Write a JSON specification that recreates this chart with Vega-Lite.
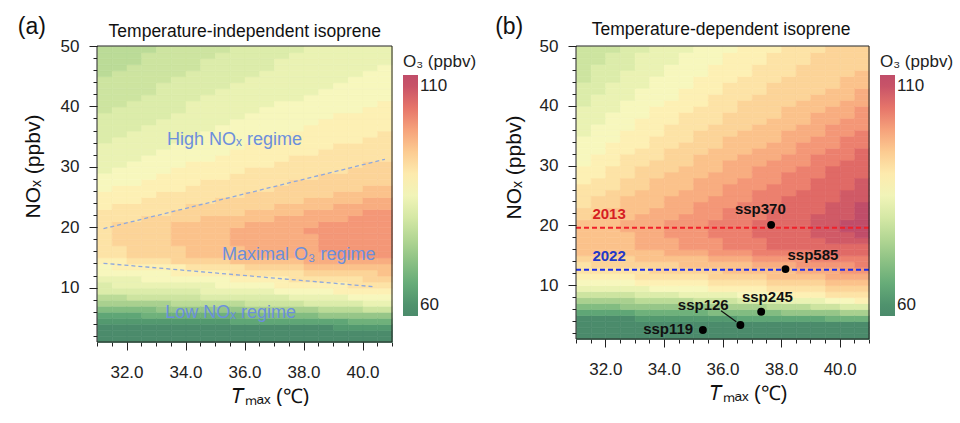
{
"$schema":"https://vega.github.io/schema/vega-lite/v6.json",
"background":"white",
"padding":{"left":17,"top":15,"right":0,"bottom":0},
"autosize":{"type":"pad"},
"spacing":10,
"config":{
"font":"Liberation Sans",
"view":{"stroke":null},
"axis":{"domain":false,"grid":false,"tickColor":"#222","tickWidth":1,"labelFontSize":17,"labelColor":"#222","titleFontSize":20,"titleFontWeight":"normal","titleColor":"#111","labelPadding":3,"labelFlush":false,"labelOverlap":false},
"legend":{"gradientLength":241,"gradientThickness":15,"offset":3,"padding":8,"titlePadding":4,"titleFontSize":17,"titleFontWeight":"normal","labelFontSize":17,"labelOffset":4,"labelColor":"#222","titleColor":"#222","gradientStrokeWidth":0}
},
"resolve":{"scale":{"color":"independent","stroke":"independent"},"legend":{"color":"independent"}},
"datasets":{
"a":[
{"t":31.25,"n":1.5,"o":59},{"t":31.25,"n":2.5,"o":59},{"t":31.25,"n":3.5,"o":59},{"t":31.25,"n":4.5,"o":61},{"t":31.25,"n":5.5,"o":64},{"t":31.25,"n":6.5,"o":69},{"t":31.25,"n":7.5,"o":74},{"t":31.25,"n":8.5,"o":76},{"t":31.25,"n":9.5,"o":81},{"t":31.25,"n":10.5,"o":81},{"t":31.25,"n":11.5,"o":84},{"t":31.25,"n":12.5,"o":86},{"t":31.25,"n":13.5,"o":86},{"t":31.25,"n":14.5,"o":89},{"t":31.25,"n":15.5,"o":91},{"t":31.25,"n":16.5,"o":91},{"t":31.25,"n":17.5,"o":91},{"t":31.25,"n":18.5,"o":91},{"t":31.25,"n":19.5,"o":91},{"t":31.25,"n":20.5,"o":91},{"t":31.25,"n":21.5,"o":91},{"t":31.25,"n":22.5,"o":91},{"t":31.25,"n":23.5,"o":89},{"t":31.25,"n":24.5,"o":89},{"t":31.25,"n":25.5,"o":89},{"t":31.25,"n":26.5,"o":86},{"t":31.25,"n":27.5,"o":86},{"t":31.25,"n":28.5,"o":86},{"t":31.25,"n":29.5,"o":84},{"t":31.25,"n":30.5,"o":84},{"t":31.25,"n":31.5,"o":84},{"t":31.25,"n":32.5,"o":84},{"t":31.25,"n":33.5,"o":84},{"t":31.25,"n":34.5,"o":81},{"t":31.25,"n":35.5,"o":81},{"t":31.25,"n":36.5,"o":81},{"t":31.25,"n":37.5,"o":81},{"t":31.25,"n":38.5,"o":81},{"t":31.25,"n":39.5,"o":79},{"t":31.25,"n":40.5,"o":79},{"t":31.25,"n":41.5,"o":79},{"t":31.25,"n":42.5,"o":79},{"t":31.25,"n":43.5,"o":79},{"t":31.25,"n":44.5,"o":79},{"t":31.25,"n":45.5,"o":76},{"t":31.25,"n":46.5,"o":76},{"t":31.25,"n":47.5,"o":76},{"t":31.25,"n":48.5,"o":76},{"t":31.25,"n":49.5,"o":76},
{"t":31.75,"n":1.5,"o":59},{"t":31.75,"n":2.5,"o":59},{"t":31.75,"n":3.5,"o":59},{"t":31.75,"n":4.5,"o":61},{"t":31.75,"n":5.5,"o":64},{"t":31.75,"n":6.5,"o":69},{"t":31.75,"n":7.5,"o":74},{"t":31.75,"n":8.5,"o":76},{"t":31.75,"n":9.5,"o":81},{"t":31.75,"n":10.5,"o":84},{"t":31.75,"n":11.5,"o":84},{"t":31.75,"n":12.5,"o":86},{"t":31.75,"n":13.5,"o":89},{"t":31.75,"n":14.5,"o":89},{"t":31.75,"n":15.5,"o":91},{"t":31.75,"n":16.5,"o":91},{"t":31.75,"n":17.5,"o":94},{"t":31.75,"n":18.5,"o":94},{"t":31.75,"n":19.5,"o":94},{"t":31.75,"n":20.5,"o":94},{"t":31.75,"n":21.5,"o":91},{"t":31.75,"n":22.5,"o":91},{"t":31.75,"n":23.5,"o":91},{"t":31.75,"n":24.5,"o":89},{"t":31.75,"n":25.5,"o":89},{"t":31.75,"n":26.5,"o":89},{"t":31.75,"n":27.5,"o":86},{"t":31.75,"n":28.5,"o":86},{"t":31.75,"n":29.5,"o":86},{"t":31.75,"n":30.5,"o":84},{"t":31.75,"n":31.5,"o":84},{"t":31.75,"n":32.5,"o":84},{"t":31.75,"n":33.5,"o":84},{"t":31.75,"n":34.5,"o":84},{"t":31.75,"n":35.5,"o":81},{"t":31.75,"n":36.5,"o":81},{"t":31.75,"n":37.5,"o":81},{"t":31.75,"n":38.5,"o":81},{"t":31.75,"n":39.5,"o":81},{"t":31.75,"n":40.5,"o":79},{"t":31.75,"n":41.5,"o":79},{"t":31.75,"n":42.5,"o":79},{"t":31.75,"n":43.5,"o":79},{"t":31.75,"n":44.5,"o":79},{"t":31.75,"n":45.5,"o":79},{"t":31.75,"n":46.5,"o":76},{"t":31.75,"n":47.5,"o":76},{"t":31.75,"n":48.5,"o":76},{"t":31.75,"n":49.5,"o":76},
{"t":32.25,"n":1.5,"o":59},{"t":32.25,"n":2.5,"o":59},{"t":32.25,"n":3.5,"o":59},{"t":32.25,"n":4.5,"o":61},{"t":32.25,"n":5.5,"o":64},{"t":32.25,"n":6.5,"o":69},{"t":32.25,"n":7.5,"o":74},{"t":32.25,"n":8.5,"o":79},{"t":32.25,"n":9.5,"o":81},{"t":32.25,"n":10.5,"o":84},{"t":32.25,"n":11.5,"o":84},{"t":32.25,"n":12.5,"o":86},{"t":32.25,"n":13.5,"o":89},{"t":32.25,"n":14.5,"o":91},{"t":32.25,"n":15.5,"o":94},{"t":32.25,"n":16.5,"o":94},{"t":32.25,"n":17.5,"o":94},{"t":32.25,"n":18.5,"o":94},{"t":32.25,"n":19.5,"o":94},{"t":32.25,"n":20.5,"o":94},{"t":32.25,"n":21.5,"o":91},{"t":32.25,"n":22.5,"o":91},{"t":32.25,"n":23.5,"o":91},{"t":32.25,"n":24.5,"o":89},{"t":32.25,"n":25.5,"o":89},{"t":32.25,"n":26.5,"o":89},{"t":32.25,"n":27.5,"o":86},{"t":32.25,"n":28.5,"o":86},{"t":32.25,"n":29.5,"o":86},{"t":32.25,"n":30.5,"o":86},{"t":32.25,"n":31.5,"o":84},{"t":32.25,"n":32.5,"o":84},{"t":32.25,"n":33.5,"o":84},{"t":32.25,"n":34.5,"o":84},{"t":32.25,"n":35.5,"o":84},{"t":32.25,"n":36.5,"o":81},{"t":32.25,"n":37.5,"o":81},{"t":32.25,"n":38.5,"o":81},{"t":32.25,"n":39.5,"o":81},{"t":32.25,"n":40.5,"o":81},{"t":32.25,"n":41.5,"o":79},{"t":32.25,"n":42.5,"o":79},{"t":32.25,"n":43.5,"o":79},{"t":32.25,"n":44.5,"o":79},{"t":32.25,"n":45.5,"o":79},{"t":32.25,"n":46.5,"o":79},{"t":32.25,"n":47.5,"o":76},{"t":32.25,"n":48.5,"o":76},{"t":32.25,"n":49.5,"o":76},
{"t":32.75,"n":1.5,"o":59},{"t":32.75,"n":2.5,"o":59},{"t":32.75,"n":3.5,"o":59},{"t":32.75,"n":4.5,"o":61},{"t":32.75,"n":5.5,"o":66},{"t":32.75,"n":6.5,"o":69},{"t":32.75,"n":7.5,"o":74},{"t":32.75,"n":8.5,"o":79},{"t":32.75,"n":9.5,"o":81},{"t":32.75,"n":10.5,"o":84},{"t":32.75,"n":11.5,"o":86},{"t":32.75,"n":12.5,"o":86},{"t":32.75,"n":13.5,"o":89},{"t":32.75,"n":14.5,"o":91},{"t":32.75,"n":15.5,"o":94},{"t":32.75,"n":16.5,"o":94},{"t":32.75,"n":17.5,"o":94},{"t":32.75,"n":18.5,"o":94},{"t":32.75,"n":19.5,"o":94},{"t":32.75,"n":20.5,"o":94},{"t":32.75,"n":21.5,"o":94},{"t":32.75,"n":22.5,"o":91},{"t":32.75,"n":23.5,"o":91},{"t":32.75,"n":24.5,"o":91},{"t":32.75,"n":25.5,"o":89},{"t":32.75,"n":26.5,"o":89},{"t":32.75,"n":27.5,"o":89},{"t":32.75,"n":28.5,"o":86},{"t":32.75,"n":29.5,"o":86},{"t":32.75,"n":30.5,"o":86},{"t":32.75,"n":31.5,"o":86},{"t":32.75,"n":32.5,"o":84},{"t":32.75,"n":33.5,"o":84},{"t":32.75,"n":34.5,"o":84},{"t":32.75,"n":35.5,"o":84},{"t":32.75,"n":36.5,"o":84},{"t":32.75,"n":37.5,"o":81},{"t":32.75,"n":38.5,"o":81},{"t":32.75,"n":39.5,"o":81},{"t":32.75,"n":40.5,"o":81},{"t":32.75,"n":41.5,"o":81},{"t":32.75,"n":42.5,"o":79},{"t":32.75,"n":43.5,"o":79},{"t":32.75,"n":44.5,"o":79},{"t":32.75,"n":45.5,"o":79},{"t":32.75,"n":46.5,"o":79},{"t":32.75,"n":47.5,"o":79},{"t":32.75,"n":48.5,"o":79},{"t":32.75,"n":49.5,"o":76},
{"t":33.25,"n":1.5,"o":59},{"t":33.25,"n":2.5,"o":59},{"t":33.25,"n":3.5,"o":59},{"t":33.25,"n":4.5,"o":61},{"t":33.25,"n":5.5,"o":66},{"t":33.25,"n":6.5,"o":71},{"t":33.25,"n":7.5,"o":74},{"t":33.25,"n":8.5,"o":79},{"t":33.25,"n":9.5,"o":81},{"t":33.25,"n":10.5,"o":84},{"t":33.25,"n":11.5,"o":86},{"t":33.25,"n":12.5,"o":86},{"t":33.25,"n":13.5,"o":89},{"t":33.25,"n":14.5,"o":91},{"t":33.25,"n":15.5,"o":94},{"t":33.25,"n":16.5,"o":94},{"t":33.25,"n":17.5,"o":94},{"t":33.25,"n":18.5,"o":94},{"t":33.25,"n":19.5,"o":94},{"t":33.25,"n":20.5,"o":94},{"t":33.25,"n":21.5,"o":94},{"t":33.25,"n":22.5,"o":91},{"t":33.25,"n":23.5,"o":91},{"t":33.25,"n":24.5,"o":91},{"t":33.25,"n":25.5,"o":91},{"t":33.25,"n":26.5,"o":89},{"t":33.25,"n":27.5,"o":89},{"t":33.25,"n":28.5,"o":89},{"t":33.25,"n":29.5,"o":86},{"t":33.25,"n":30.5,"o":86},{"t":33.25,"n":31.5,"o":86},{"t":33.25,"n":32.5,"o":86},{"t":33.25,"n":33.5,"o":84},{"t":33.25,"n":34.5,"o":84},{"t":33.25,"n":35.5,"o":84},{"t":33.25,"n":36.5,"o":84},{"t":33.25,"n":37.5,"o":84},{"t":33.25,"n":38.5,"o":81},{"t":33.25,"n":39.5,"o":81},{"t":33.25,"n":40.5,"o":81},{"t":33.25,"n":41.5,"o":81},{"t":33.25,"n":42.5,"o":81},{"t":33.25,"n":43.5,"o":81},{"t":33.25,"n":44.5,"o":79},{"t":33.25,"n":45.5,"o":79},{"t":33.25,"n":46.5,"o":79},{"t":33.25,"n":47.5,"o":79},{"t":33.25,"n":48.5,"o":79},{"t":33.25,"n":49.5,"o":79},
{"t":33.75,"n":1.5,"o":59},{"t":33.75,"n":2.5,"o":59},{"t":33.75,"n":3.5,"o":59},{"t":33.75,"n":4.5,"o":61},{"t":33.75,"n":5.5,"o":66},{"t":33.75,"n":6.5,"o":71},{"t":33.75,"n":7.5,"o":76},{"t":33.75,"n":8.5,"o":79},{"t":33.75,"n":9.5,"o":81},{"t":33.75,"n":10.5,"o":84},{"t":33.75,"n":11.5,"o":86},{"t":33.75,"n":12.5,"o":89},{"t":33.75,"n":13.5,"o":89},{"t":33.75,"n":14.5,"o":94},{"t":33.75,"n":15.5,"o":94},{"t":33.75,"n":16.5,"o":94},{"t":33.75,"n":17.5,"o":96},{"t":33.75,"n":18.5,"o":96},{"t":33.75,"n":19.5,"o":96},{"t":33.75,"n":20.5,"o":96},{"t":33.75,"n":21.5,"o":94},{"t":33.75,"n":22.5,"o":94},{"t":33.75,"n":23.5,"o":91},{"t":33.75,"n":24.5,"o":91},{"t":33.75,"n":25.5,"o":91},{"t":33.75,"n":26.5,"o":89},{"t":33.75,"n":27.5,"o":89},{"t":33.75,"n":28.5,"o":89},{"t":33.75,"n":29.5,"o":89},{"t":33.75,"n":30.5,"o":86},{"t":33.75,"n":31.5,"o":86},{"t":33.75,"n":32.5,"o":86},{"t":33.75,"n":33.5,"o":86},{"t":33.75,"n":34.5,"o":84},{"t":33.75,"n":35.5,"o":84},{"t":33.75,"n":36.5,"o":84},{"t":33.75,"n":37.5,"o":84},{"t":33.75,"n":38.5,"o":84},{"t":33.75,"n":39.5,"o":81},{"t":33.75,"n":40.5,"o":81},{"t":33.75,"n":41.5,"o":81},{"t":33.75,"n":42.5,"o":81},{"t":33.75,"n":43.5,"o":81},{"t":33.75,"n":44.5,"o":81},{"t":33.75,"n":45.5,"o":79},{"t":33.75,"n":46.5,"o":79},{"t":33.75,"n":47.5,"o":79},{"t":33.75,"n":48.5,"o":79},{"t":33.75,"n":49.5,"o":79},
{"t":34.25,"n":1.5,"o":59},{"t":34.25,"n":2.5,"o":59},{"t":34.25,"n":3.5,"o":59},{"t":34.25,"n":4.5,"o":61},{"t":34.25,"n":5.5,"o":66},{"t":34.25,"n":6.5,"o":71},{"t":34.25,"n":7.5,"o":76},{"t":34.25,"n":8.5,"o":79},{"t":34.25,"n":9.5,"o":81},{"t":34.25,"n":10.5,"o":84},{"t":34.25,"n":11.5,"o":86},{"t":34.25,"n":12.5,"o":89},{"t":34.25,"n":13.5,"o":91},{"t":34.25,"n":14.5,"o":94},{"t":34.25,"n":15.5,"o":96},{"t":34.25,"n":16.5,"o":96},{"t":34.25,"n":17.5,"o":96},{"t":34.25,"n":18.5,"o":96},{"t":34.25,"n":19.5,"o":96},{"t":34.25,"n":20.5,"o":96},{"t":34.25,"n":21.5,"o":94},{"t":34.25,"n":22.5,"o":94},{"t":34.25,"n":23.5,"o":94},{"t":34.25,"n":24.5,"o":91},{"t":34.25,"n":25.5,"o":91},{"t":34.25,"n":26.5,"o":91},{"t":34.25,"n":27.5,"o":89},{"t":34.25,"n":28.5,"o":89},{"t":34.25,"n":29.5,"o":89},{"t":34.25,"n":30.5,"o":89},{"t":34.25,"n":31.5,"o":86},{"t":34.25,"n":32.5,"o":86},{"t":34.25,"n":33.5,"o":86},{"t":34.25,"n":34.5,"o":86},{"t":34.25,"n":35.5,"o":84},{"t":34.25,"n":36.5,"o":84},{"t":34.25,"n":37.5,"o":84},{"t":34.25,"n":38.5,"o":84},{"t":34.25,"n":39.5,"o":84},{"t":34.25,"n":40.5,"o":84},{"t":34.25,"n":41.5,"o":81},{"t":34.25,"n":42.5,"o":81},{"t":34.25,"n":43.5,"o":81},{"t":34.25,"n":44.5,"o":81},{"t":34.25,"n":45.5,"o":81},{"t":34.25,"n":46.5,"o":79},{"t":34.25,"n":47.5,"o":79},{"t":34.25,"n":48.5,"o":79},{"t":34.25,"n":49.5,"o":79},
{"t":34.75,"n":1.5,"o":59},{"t":34.75,"n":2.5,"o":59},{"t":34.75,"n":3.5,"o":59},{"t":34.75,"n":4.5,"o":61},{"t":34.75,"n":5.5,"o":66},{"t":34.75,"n":6.5,"o":71},{"t":34.75,"n":7.5,"o":76},{"t":34.75,"n":8.5,"o":81},{"t":34.75,"n":9.5,"o":84},{"t":34.75,"n":10.5,"o":84},{"t":34.75,"n":11.5,"o":86},{"t":34.75,"n":12.5,"o":89},{"t":34.75,"n":13.5,"o":91},{"t":34.75,"n":14.5,"o":94},{"t":34.75,"n":15.5,"o":96},{"t":34.75,"n":16.5,"o":96},{"t":34.75,"n":17.5,"o":96},{"t":34.75,"n":18.5,"o":96},{"t":34.75,"n":19.5,"o":96},{"t":34.75,"n":20.5,"o":96},{"t":34.75,"n":21.5,"o":96},{"t":34.75,"n":22.5,"o":94},{"t":34.75,"n":23.5,"o":94},{"t":34.75,"n":24.5,"o":91},{"t":34.75,"n":25.5,"o":91},{"t":34.75,"n":26.5,"o":91},{"t":34.75,"n":27.5,"o":91},{"t":34.75,"n":28.5,"o":89},{"t":34.75,"n":29.5,"o":89},{"t":34.75,"n":30.5,"o":89},{"t":34.75,"n":31.5,"o":86},{"t":34.75,"n":32.5,"o":86},{"t":34.75,"n":33.5,"o":86},{"t":34.75,"n":34.5,"o":86},{"t":34.75,"n":35.5,"o":86},{"t":34.75,"n":36.5,"o":84},{"t":34.75,"n":37.5,"o":84},{"t":34.75,"n":38.5,"o":84},{"t":34.75,"n":39.5,"o":84},{"t":34.75,"n":40.5,"o":84},{"t":34.75,"n":41.5,"o":84},{"t":34.75,"n":42.5,"o":81},{"t":34.75,"n":43.5,"o":81},{"t":34.75,"n":44.5,"o":81},{"t":34.75,"n":45.5,"o":81},{"t":34.75,"n":46.5,"o":81},{"t":34.75,"n":47.5,"o":81},{"t":34.75,"n":48.5,"o":79},{"t":34.75,"n":49.5,"o":79},
{"t":35.25,"n":1.5,"o":59},{"t":35.25,"n":2.5,"o":59},{"t":35.25,"n":3.5,"o":59},{"t":35.25,"n":4.5,"o":61},{"t":35.25,"n":5.5,"o":66},{"t":35.25,"n":6.5,"o":71},{"t":35.25,"n":7.5,"o":76},{"t":35.25,"n":8.5,"o":81},{"t":35.25,"n":9.5,"o":84},{"t":35.25,"n":10.5,"o":86},{"t":35.25,"n":11.5,"o":86},{"t":35.25,"n":12.5,"o":89},{"t":35.25,"n":13.5,"o":91},{"t":35.25,"n":14.5,"o":94},{"t":35.25,"n":15.5,"o":96},{"t":35.25,"n":16.5,"o":96},{"t":35.25,"n":17.5,"o":96},{"t":35.25,"n":18.5,"o":96},{"t":35.25,"n":19.5,"o":96},{"t":35.25,"n":20.5,"o":96},{"t":35.25,"n":21.5,"o":96},{"t":35.25,"n":22.5,"o":94},{"t":35.25,"n":23.5,"o":94},{"t":35.25,"n":24.5,"o":94},{"t":35.25,"n":25.5,"o":91},{"t":35.25,"n":26.5,"o":91},{"t":35.25,"n":27.5,"o":91},{"t":35.25,"n":28.5,"o":89},{"t":35.25,"n":29.5,"o":89},{"t":35.25,"n":30.5,"o":89},{"t":35.25,"n":31.5,"o":89},{"t":35.25,"n":32.5,"o":86},{"t":35.25,"n":33.5,"o":86},{"t":35.25,"n":34.5,"o":86},{"t":35.25,"n":35.5,"o":86},{"t":35.25,"n":36.5,"o":86},{"t":35.25,"n":37.5,"o":84},{"t":35.25,"n":38.5,"o":84},{"t":35.25,"n":39.5,"o":84},{"t":35.25,"n":40.5,"o":84},{"t":35.25,"n":41.5,"o":84},{"t":35.25,"n":42.5,"o":84},{"t":35.25,"n":43.5,"o":81},{"t":35.25,"n":44.5,"o":81},{"t":35.25,"n":45.5,"o":81},{"t":35.25,"n":46.5,"o":81},{"t":35.25,"n":47.5,"o":81},{"t":35.25,"n":48.5,"o":81},{"t":35.25,"n":49.5,"o":79},
{"t":35.75,"n":1.5,"o":59},{"t":35.75,"n":2.5,"o":59},{"t":35.75,"n":3.5,"o":59},{"t":35.75,"n":4.5,"o":64},{"t":35.75,"n":5.5,"o":66},{"t":35.75,"n":6.5,"o":71},{"t":35.75,"n":7.5,"o":76},{"t":35.75,"n":8.5,"o":81},{"t":35.75,"n":9.5,"o":84},{"t":35.75,"n":10.5,"o":86},{"t":35.75,"n":11.5,"o":89},{"t":35.75,"n":12.5,"o":91},{"t":35.75,"n":13.5,"o":91},{"t":35.75,"n":14.5,"o":96},{"t":35.75,"n":15.5,"o":96},{"t":35.75,"n":16.5,"o":96},{"t":35.75,"n":17.5,"o":99},{"t":35.75,"n":18.5,"o":99},{"t":35.75,"n":19.5,"o":99},{"t":35.75,"n":20.5,"o":96},{"t":35.75,"n":21.5,"o":96},{"t":35.75,"n":22.5,"o":94},{"t":35.75,"n":23.5,"o":94},{"t":35.75,"n":24.5,"o":94},{"t":35.75,"n":25.5,"o":91},{"t":35.75,"n":26.5,"o":91},{"t":35.75,"n":27.5,"o":91},{"t":35.75,"n":28.5,"o":91},{"t":35.75,"n":29.5,"o":89},{"t":35.75,"n":30.5,"o":89},{"t":35.75,"n":31.5,"o":89},{"t":35.75,"n":32.5,"o":89},{"t":35.75,"n":33.5,"o":86},{"t":35.75,"n":34.5,"o":86},{"t":35.75,"n":35.5,"o":86},{"t":35.75,"n":36.5,"o":86},{"t":35.75,"n":37.5,"o":86},{"t":35.75,"n":38.5,"o":84},{"t":35.75,"n":39.5,"o":84},{"t":35.75,"n":40.5,"o":84},{"t":35.75,"n":41.5,"o":84},{"t":35.75,"n":42.5,"o":84},{"t":35.75,"n":43.5,"o":84},{"t":35.75,"n":44.5,"o":81},{"t":35.75,"n":45.5,"o":81},{"t":35.75,"n":46.5,"o":81},{"t":35.75,"n":47.5,"o":81},{"t":35.75,"n":48.5,"o":81},{"t":35.75,"n":49.5,"o":81},
{"t":36.25,"n":1.5,"o":59},{"t":36.25,"n":2.5,"o":59},{"t":36.25,"n":3.5,"o":59},{"t":36.25,"n":4.5,"o":64},{"t":36.25,"n":5.5,"o":69},{"t":36.25,"n":6.5,"o":74},{"t":36.25,"n":7.5,"o":79},{"t":36.25,"n":8.5,"o":81},{"t":36.25,"n":9.5,"o":84},{"t":36.25,"n":10.5,"o":86},{"t":36.25,"n":11.5,"o":89},{"t":36.25,"n":12.5,"o":91},{"t":36.25,"n":13.5,"o":94},{"t":36.25,"n":14.5,"o":96},{"t":36.25,"n":15.5,"o":99},{"t":36.25,"n":16.5,"o":99},{"t":36.25,"n":17.5,"o":99},{"t":36.25,"n":18.5,"o":99},{"t":36.25,"n":19.5,"o":99},{"t":36.25,"n":20.5,"o":99},{"t":36.25,"n":21.5,"o":96},{"t":36.25,"n":22.5,"o":96},{"t":36.25,"n":23.5,"o":94},{"t":36.25,"n":24.5,"o":94},{"t":36.25,"n":25.5,"o":94},{"t":36.25,"n":26.5,"o":91},{"t":36.25,"n":27.5,"o":91},{"t":36.25,"n":28.5,"o":91},{"t":36.25,"n":29.5,"o":91},{"t":36.25,"n":30.5,"o":89},{"t":36.25,"n":31.5,"o":89},{"t":36.25,"n":32.5,"o":89},{"t":36.25,"n":33.5,"o":89},{"t":36.25,"n":34.5,"o":86},{"t":36.25,"n":35.5,"o":86},{"t":36.25,"n":36.5,"o":86},{"t":36.25,"n":37.5,"o":86},{"t":36.25,"n":38.5,"o":86},{"t":36.25,"n":39.5,"o":84},{"t":36.25,"n":40.5,"o":84},{"t":36.25,"n":41.5,"o":84},{"t":36.25,"n":42.5,"o":84},{"t":36.25,"n":43.5,"o":84},{"t":36.25,"n":44.5,"o":84},{"t":36.25,"n":45.5,"o":81},{"t":36.25,"n":46.5,"o":81},{"t":36.25,"n":47.5,"o":81},{"t":36.25,"n":48.5,"o":81},{"t":36.25,"n":49.5,"o":81},
{"t":36.75,"n":1.5,"o":59},{"t":36.75,"n":2.5,"o":59},{"t":36.75,"n":3.5,"o":59},{"t":36.75,"n":4.5,"o":64},{"t":36.75,"n":5.5,"o":69},{"t":36.75,"n":6.5,"o":74},{"t":36.75,"n":7.5,"o":79},{"t":36.75,"n":8.5,"o":81},{"t":36.75,"n":9.5,"o":84},{"t":36.75,"n":10.5,"o":86},{"t":36.75,"n":11.5,"o":89},{"t":36.75,"n":12.5,"o":91},{"t":36.75,"n":13.5,"o":94},{"t":36.75,"n":14.5,"o":96},{"t":36.75,"n":15.5,"o":99},{"t":36.75,"n":16.5,"o":99},{"t":36.75,"n":17.5,"o":99},{"t":36.75,"n":18.5,"o":99},{"t":36.75,"n":19.5,"o":99},{"t":36.75,"n":20.5,"o":99},{"t":36.75,"n":21.5,"o":96},{"t":36.75,"n":22.5,"o":96},{"t":36.75,"n":23.5,"o":94},{"t":36.75,"n":24.5,"o":94},{"t":36.75,"n":25.5,"o":94},{"t":36.75,"n":26.5,"o":91},{"t":36.75,"n":27.5,"o":91},{"t":36.75,"n":28.5,"o":91},{"t":36.75,"n":29.5,"o":91},{"t":36.75,"n":30.5,"o":89},{"t":36.75,"n":31.5,"o":89},{"t":36.75,"n":32.5,"o":89},{"t":36.75,"n":33.5,"o":89},{"t":36.75,"n":34.5,"o":89},{"t":36.75,"n":35.5,"o":86},{"t":36.75,"n":36.5,"o":86},{"t":36.75,"n":37.5,"o":86},{"t":36.75,"n":38.5,"o":86},{"t":36.75,"n":39.5,"o":86},{"t":36.75,"n":40.5,"o":84},{"t":36.75,"n":41.5,"o":84},{"t":36.75,"n":42.5,"o":84},{"t":36.75,"n":43.5,"o":84},{"t":36.75,"n":44.5,"o":84},{"t":36.75,"n":45.5,"o":84},{"t":36.75,"n":46.5,"o":81},{"t":36.75,"n":47.5,"o":81},{"t":36.75,"n":48.5,"o":81},{"t":36.75,"n":49.5,"o":81},
{"t":37.25,"n":1.5,"o":59},{"t":37.25,"n":2.5,"o":59},{"t":37.25,"n":3.5,"o":59},{"t":37.25,"n":4.5,"o":64},{"t":37.25,"n":5.5,"o":69},{"t":37.25,"n":6.5,"o":74},{"t":37.25,"n":7.5,"o":79},{"t":37.25,"n":8.5,"o":81},{"t":37.25,"n":9.5,"o":86},{"t":37.25,"n":10.5,"o":89},{"t":37.25,"n":11.5,"o":89},{"t":37.25,"n":12.5,"o":91},{"t":37.25,"n":13.5,"o":94},{"t":37.25,"n":14.5,"o":96},{"t":37.25,"n":15.5,"o":99},{"t":37.25,"n":16.5,"o":99},{"t":37.25,"n":17.5,"o":99},{"t":37.25,"n":18.5,"o":99},{"t":37.25,"n":19.5,"o":99},{"t":37.25,"n":20.5,"o":99},{"t":37.25,"n":21.5,"o":99},{"t":37.25,"n":22.5,"o":96},{"t":37.25,"n":23.5,"o":96},{"t":37.25,"n":24.5,"o":94},{"t":37.25,"n":25.5,"o":94},{"t":37.25,"n":26.5,"o":94},{"t":37.25,"n":27.5,"o":91},{"t":37.25,"n":28.5,"o":91},{"t":37.25,"n":29.5,"o":91},{"t":37.25,"n":30.5,"o":91},{"t":37.25,"n":31.5,"o":89},{"t":37.25,"n":32.5,"o":89},{"t":37.25,"n":33.5,"o":89},{"t":37.25,"n":34.5,"o":89},{"t":37.25,"n":35.5,"o":86},{"t":37.25,"n":36.5,"o":86},{"t":37.25,"n":37.5,"o":86},{"t":37.25,"n":38.5,"o":86},{"t":37.25,"n":39.5,"o":86},{"t":37.25,"n":40.5,"o":86},{"t":37.25,"n":41.5,"o":84},{"t":37.25,"n":42.5,"o":84},{"t":37.25,"n":43.5,"o":84},{"t":37.25,"n":44.5,"o":84},{"t":37.25,"n":45.5,"o":84},{"t":37.25,"n":46.5,"o":84},{"t":37.25,"n":47.5,"o":84},{"t":37.25,"n":48.5,"o":81},{"t":37.25,"n":49.5,"o":81},
{"t":37.75,"n":1.5,"o":59},{"t":37.75,"n":2.5,"o":59},{"t":37.75,"n":3.5,"o":59},{"t":37.75,"n":4.5,"o":64},{"t":37.75,"n":5.5,"o":69},{"t":37.75,"n":6.5,"o":74},{"t":37.75,"n":7.5,"o":79},{"t":37.75,"n":8.5,"o":84},{"t":37.75,"n":9.5,"o":86},{"t":37.75,"n":10.5,"o":89},{"t":37.75,"n":11.5,"o":91},{"t":37.75,"n":12.5,"o":91},{"t":37.75,"n":13.5,"o":94},{"t":37.75,"n":14.5,"o":96},{"t":37.75,"n":15.5,"o":99},{"t":37.75,"n":16.5,"o":99},{"t":37.75,"n":17.5,"o":99},{"t":37.75,"n":18.5,"o":99},{"t":37.75,"n":19.5,"o":99},{"t":37.75,"n":20.5,"o":99},{"t":37.75,"n":21.5,"o":99},{"t":37.75,"n":22.5,"o":96},{"t":37.75,"n":23.5,"o":96},{"t":37.75,"n":24.5,"o":94},{"t":37.75,"n":25.5,"o":94},{"t":37.75,"n":26.5,"o":94},{"t":37.75,"n":27.5,"o":94},{"t":37.75,"n":28.5,"o":91},{"t":37.75,"n":29.5,"o":91},{"t":37.75,"n":30.5,"o":91},{"t":37.75,"n":31.5,"o":91},{"t":37.75,"n":32.5,"o":89},{"t":37.75,"n":33.5,"o":89},{"t":37.75,"n":34.5,"o":89},{"t":37.75,"n":35.5,"o":89},{"t":37.75,"n":36.5,"o":86},{"t":37.75,"n":37.5,"o":86},{"t":37.75,"n":38.5,"o":86},{"t":37.75,"n":39.5,"o":86},{"t":37.75,"n":40.5,"o":86},{"t":37.75,"n":41.5,"o":84},{"t":37.75,"n":42.5,"o":84},{"t":37.75,"n":43.5,"o":84},{"t":37.75,"n":44.5,"o":84},{"t":37.75,"n":45.5,"o":84},{"t":37.75,"n":46.5,"o":84},{"t":37.75,"n":47.5,"o":84},{"t":37.75,"n":48.5,"o":84},{"t":37.75,"n":49.5,"o":81},
{"t":38.25,"n":1.5,"o":59},{"t":38.25,"n":2.5,"o":59},{"t":38.25,"n":3.5,"o":59},{"t":38.25,"n":4.5,"o":64},{"t":38.25,"n":5.5,"o":69},{"t":38.25,"n":6.5,"o":74},{"t":38.25,"n":7.5,"o":81},{"t":38.25,"n":8.5,"o":84},{"t":38.25,"n":9.5,"o":86},{"t":38.25,"n":10.5,"o":89},{"t":38.25,"n":11.5,"o":91},{"t":38.25,"n":12.5,"o":94},{"t":38.25,"n":13.5,"o":96},{"t":38.25,"n":14.5,"o":99},{"t":38.25,"n":15.5,"o":99},{"t":38.25,"n":16.5,"o":99},{"t":38.25,"n":17.5,"o":99},{"t":38.25,"n":18.5,"o":99},{"t":38.25,"n":19.5,"o":101},{"t":38.25,"n":20.5,"o":99},{"t":38.25,"n":21.5,"o":99},{"t":38.25,"n":22.5,"o":99},{"t":38.25,"n":23.5,"o":96},{"t":38.25,"n":24.5,"o":96},{"t":38.25,"n":25.5,"o":94},{"t":38.25,"n":26.5,"o":94},{"t":38.25,"n":27.5,"o":94},{"t":38.25,"n":28.5,"o":91},{"t":38.25,"n":29.5,"o":91},{"t":38.25,"n":30.5,"o":91},{"t":38.25,"n":31.5,"o":91},{"t":38.25,"n":32.5,"o":89},{"t":38.25,"n":33.5,"o":89},{"t":38.25,"n":34.5,"o":89},{"t":38.25,"n":35.5,"o":89},{"t":38.25,"n":36.5,"o":89},{"t":38.25,"n":37.5,"o":86},{"t":38.25,"n":38.5,"o":86},{"t":38.25,"n":39.5,"o":86},{"t":38.25,"n":40.5,"o":86},{"t":38.25,"n":41.5,"o":86},{"t":38.25,"n":42.5,"o":84},{"t":38.25,"n":43.5,"o":84},{"t":38.25,"n":44.5,"o":84},{"t":38.25,"n":45.5,"o":84},{"t":38.25,"n":46.5,"o":84},{"t":38.25,"n":47.5,"o":84},{"t":38.25,"n":48.5,"o":84},{"t":38.25,"n":49.5,"o":84},
{"t":38.75,"n":1.5,"o":59},{"t":38.75,"n":2.5,"o":59},{"t":38.75,"n":3.5,"o":59},{"t":38.75,"n":4.5,"o":64},{"t":38.75,"n":5.5,"o":71},{"t":38.75,"n":6.5,"o":76},{"t":38.75,"n":7.5,"o":81},{"t":38.75,"n":8.5,"o":84},{"t":38.75,"n":9.5,"o":86},{"t":38.75,"n":10.5,"o":89},{"t":38.75,"n":11.5,"o":91},{"t":38.75,"n":12.5,"o":94},{"t":38.75,"n":13.5,"o":96},{"t":38.75,"n":14.5,"o":99},{"t":38.75,"n":15.5,"o":99},{"t":38.75,"n":16.5,"o":101},{"t":38.75,"n":17.5,"o":101},{"t":38.75,"n":18.5,"o":101},{"t":38.75,"n":19.5,"o":101},{"t":38.75,"n":20.5,"o":101},{"t":38.75,"n":21.5,"o":99},{"t":38.75,"n":22.5,"o":99},{"t":38.75,"n":23.5,"o":96},{"t":38.75,"n":24.5,"o":96},{"t":38.75,"n":25.5,"o":94},{"t":38.75,"n":26.5,"o":94},{"t":38.75,"n":27.5,"o":94},{"t":38.75,"n":28.5,"o":94},{"t":38.75,"n":29.5,"o":91},{"t":38.75,"n":30.5,"o":91},{"t":38.75,"n":31.5,"o":91},{"t":38.75,"n":32.5,"o":91},{"t":38.75,"n":33.5,"o":89},{"t":38.75,"n":34.5,"o":89},{"t":38.75,"n":35.5,"o":89},{"t":38.75,"n":36.5,"o":89},{"t":38.75,"n":37.5,"o":89},{"t":38.75,"n":38.5,"o":86},{"t":38.75,"n":39.5,"o":86},{"t":38.75,"n":40.5,"o":86},{"t":38.75,"n":41.5,"o":86},{"t":38.75,"n":42.5,"o":86},{"t":38.75,"n":43.5,"o":84},{"t":38.75,"n":44.5,"o":84},{"t":38.75,"n":45.5,"o":84},{"t":38.75,"n":46.5,"o":84},{"t":38.75,"n":47.5,"o":84},{"t":38.75,"n":48.5,"o":84},{"t":38.75,"n":49.5,"o":84},
{"t":39.25,"n":1.5,"o":59},{"t":39.25,"n":2.5,"o":59},{"t":39.25,"n":3.5,"o":61},{"t":39.25,"n":4.5,"o":64},{"t":39.25,"n":5.5,"o":71},{"t":39.25,"n":6.5,"o":76},{"t":39.25,"n":7.5,"o":81},{"t":39.25,"n":8.5,"o":84},{"t":39.25,"n":9.5,"o":89},{"t":39.25,"n":10.5,"o":89},{"t":39.25,"n":11.5,"o":91},{"t":39.25,"n":12.5,"o":94},{"t":39.25,"n":13.5,"o":96},{"t":39.25,"n":14.5,"o":99},{"t":39.25,"n":15.5,"o":101},{"t":39.25,"n":16.5,"o":101},{"t":39.25,"n":17.5,"o":101},{"t":39.25,"n":18.5,"o":101},{"t":39.25,"n":19.5,"o":101},{"t":39.25,"n":20.5,"o":101},{"t":39.25,"n":21.5,"o":99},{"t":39.25,"n":22.5,"o":99},{"t":39.25,"n":23.5,"o":99},{"t":39.25,"n":24.5,"o":96},{"t":39.25,"n":25.5,"o":96},{"t":39.25,"n":26.5,"o":94},{"t":39.25,"n":27.5,"o":94},{"t":39.25,"n":28.5,"o":94},{"t":39.25,"n":29.5,"o":91},{"t":39.25,"n":30.5,"o":91},{"t":39.25,"n":31.5,"o":91},{"t":39.25,"n":32.5,"o":91},{"t":39.25,"n":33.5,"o":91},{"t":39.25,"n":34.5,"o":89},{"t":39.25,"n":35.5,"o":89},{"t":39.25,"n":36.5,"o":89},{"t":39.25,"n":37.5,"o":89},{"t":39.25,"n":38.5,"o":89},{"t":39.25,"n":39.5,"o":86},{"t":39.25,"n":40.5,"o":86},{"t":39.25,"n":41.5,"o":86},{"t":39.25,"n":42.5,"o":86},{"t":39.25,"n":43.5,"o":86},{"t":39.25,"n":44.5,"o":84},{"t":39.25,"n":45.5,"o":84},{"t":39.25,"n":46.5,"o":84},{"t":39.25,"n":47.5,"o":84},{"t":39.25,"n":48.5,"o":84},{"t":39.25,"n":49.5,"o":84},
{"t":39.75,"n":1.5,"o":59},{"t":39.75,"n":2.5,"o":59},{"t":39.75,"n":3.5,"o":61},{"t":39.75,"n":4.5,"o":66},{"t":39.75,"n":5.5,"o":71},{"t":39.75,"n":6.5,"o":76},{"t":39.75,"n":7.5,"o":81},{"t":39.75,"n":8.5,"o":86},{"t":39.75,"n":9.5,"o":89},{"t":39.75,"n":10.5,"o":91},{"t":39.75,"n":11.5,"o":91},{"t":39.75,"n":12.5,"o":94},{"t":39.75,"n":13.5,"o":96},{"t":39.75,"n":14.5,"o":99},{"t":39.75,"n":15.5,"o":101},{"t":39.75,"n":16.5,"o":101},{"t":39.75,"n":17.5,"o":101},{"t":39.75,"n":18.5,"o":101},{"t":39.75,"n":19.5,"o":101},{"t":39.75,"n":20.5,"o":101},{"t":39.75,"n":21.5,"o":101},{"t":39.75,"n":22.5,"o":99},{"t":39.75,"n":23.5,"o":99},{"t":39.75,"n":24.5,"o":96},{"t":39.75,"n":25.5,"o":96},{"t":39.75,"n":26.5,"o":94},{"t":39.75,"n":27.5,"o":94},{"t":39.75,"n":28.5,"o":94},{"t":39.75,"n":29.5,"o":94},{"t":39.75,"n":30.5,"o":91},{"t":39.75,"n":31.5,"o":91},{"t":39.75,"n":32.5,"o":91},{"t":39.75,"n":33.5,"o":91},{"t":39.75,"n":34.5,"o":89},{"t":39.75,"n":35.5,"o":89},{"t":39.75,"n":36.5,"o":89},{"t":39.75,"n":37.5,"o":89},{"t":39.75,"n":38.5,"o":89},{"t":39.75,"n":39.5,"o":86},{"t":39.75,"n":40.5,"o":86},{"t":39.75,"n":41.5,"o":86},{"t":39.75,"n":42.5,"o":86},{"t":39.75,"n":43.5,"o":86},{"t":39.75,"n":44.5,"o":86},{"t":39.75,"n":45.5,"o":84},{"t":39.75,"n":46.5,"o":84},{"t":39.75,"n":47.5,"o":84},{"t":39.75,"n":48.5,"o":84},{"t":39.75,"n":49.5,"o":84},
{"t":40.25,"n":1.5,"o":59},{"t":40.25,"n":2.5,"o":59},{"t":40.25,"n":3.5,"o":61},{"t":40.25,"n":4.5,"o":66},{"t":40.25,"n":5.5,"o":71},{"t":40.25,"n":6.5,"o":79},{"t":40.25,"n":7.5,"o":84},{"t":40.25,"n":8.5,"o":86},{"t":40.25,"n":9.5,"o":89},{"t":40.25,"n":10.5,"o":91},{"t":40.25,"n":11.5,"o":94},{"t":40.25,"n":12.5,"o":94},{"t":40.25,"n":13.5,"o":96},{"t":40.25,"n":14.5,"o":99},{"t":40.25,"n":15.5,"o":101},{"t":40.25,"n":16.5,"o":101},{"t":40.25,"n":17.5,"o":101},{"t":40.25,"n":18.5,"o":101},{"t":40.25,"n":19.5,"o":101},{"t":40.25,"n":20.5,"o":101},{"t":40.25,"n":21.5,"o":101},{"t":40.25,"n":22.5,"o":101},{"t":40.25,"n":23.5,"o":99},{"t":40.25,"n":24.5,"o":99},{"t":40.25,"n":25.5,"o":96},{"t":40.25,"n":26.5,"o":96},{"t":40.25,"n":27.5,"o":94},{"t":40.25,"n":28.5,"o":94},{"t":40.25,"n":29.5,"o":94},{"t":40.25,"n":30.5,"o":94},{"t":40.25,"n":31.5,"o":91},{"t":40.25,"n":32.5,"o":91},{"t":40.25,"n":33.5,"o":91},{"t":40.25,"n":34.5,"o":91},{"t":40.25,"n":35.5,"o":89},{"t":40.25,"n":36.5,"o":89},{"t":40.25,"n":37.5,"o":89},{"t":40.25,"n":38.5,"o":89},{"t":40.25,"n":39.5,"o":89},{"t":40.25,"n":40.5,"o":86},{"t":40.25,"n":41.5,"o":86},{"t":40.25,"n":42.5,"o":86},{"t":40.25,"n":43.5,"o":86},{"t":40.25,"n":44.5,"o":86},{"t":40.25,"n":45.5,"o":86},{"t":40.25,"n":46.5,"o":84},{"t":40.25,"n":47.5,"o":84},{"t":40.25,"n":48.5,"o":84},{"t":40.25,"n":49.5,"o":84},
{"t":40.75,"n":1.5,"o":59},{"t":40.75,"n":2.5,"o":59},{"t":40.75,"n":3.5,"o":61},{"t":40.75,"n":4.5,"o":66},{"t":40.75,"n":5.5,"o":71},{"t":40.75,"n":6.5,"o":79},{"t":40.75,"n":7.5,"o":84},{"t":40.75,"n":8.5,"o":86},{"t":40.75,"n":9.5,"o":89},{"t":40.75,"n":10.5,"o":91},{"t":40.75,"n":11.5,"o":94},{"t":40.75,"n":12.5,"o":96},{"t":40.75,"n":13.5,"o":96},{"t":40.75,"n":14.5,"o":99},{"t":40.75,"n":15.5,"o":101},{"t":40.75,"n":16.5,"o":101},{"t":40.75,"n":17.5,"o":101},{"t":40.75,"n":18.5,"o":101},{"t":40.75,"n":19.5,"o":101},{"t":40.75,"n":20.5,"o":101},{"t":40.75,"n":21.5,"o":101},{"t":40.75,"n":22.5,"o":101},{"t":40.75,"n":23.5,"o":99},{"t":40.75,"n":24.5,"o":99},{"t":40.75,"n":25.5,"o":96},{"t":40.75,"n":26.5,"o":96},{"t":40.75,"n":27.5,"o":94},{"t":40.75,"n":28.5,"o":94},{"t":40.75,"n":29.5,"o":94},{"t":40.75,"n":30.5,"o":94},{"t":40.75,"n":31.5,"o":91},{"t":40.75,"n":32.5,"o":91},{"t":40.75,"n":33.5,"o":91},{"t":40.75,"n":34.5,"o":91},{"t":40.75,"n":35.5,"o":91},{"t":40.75,"n":36.5,"o":89},{"t":40.75,"n":37.5,"o":89},{"t":40.75,"n":38.5,"o":89},{"t":40.75,"n":39.5,"o":89},{"t":40.75,"n":40.5,"o":89},{"t":40.75,"n":41.5,"o":86},{"t":40.75,"n":42.5,"o":86},{"t":40.75,"n":43.5,"o":86},{"t":40.75,"n":44.5,"o":86},{"t":40.75,"n":45.5,"o":86},{"t":40.75,"n":46.5,"o":86},{"t":40.75,"n":47.5,"o":84},{"t":40.75,"n":48.5,"o":84},{"t":40.75,"n":49.5,"o":84}
],
"b":[
{"t":31.25,"n":1.5,"o":59},{"t":31.25,"n":2.5,"o":59},{"t":31.25,"n":3.5,"o":59},{"t":31.25,"n":4.5,"o":59},{"t":31.25,"n":5.5,"o":64},{"t":31.25,"n":6.5,"o":69},{"t":31.25,"n":7.5,"o":74},{"t":31.25,"n":8.5,"o":79},{"t":31.25,"n":9.5,"o":84},{"t":31.25,"n":10.5,"o":86},{"t":31.25,"n":11.5,"o":89},{"t":31.25,"n":12.5,"o":91},{"t":31.25,"n":13.5,"o":91},{"t":31.25,"n":14.5,"o":94},{"t":31.25,"n":15.5,"o":96},{"t":31.25,"n":16.5,"o":96},{"t":31.25,"n":17.5,"o":96},{"t":31.25,"n":18.5,"o":96},{"t":31.25,"n":19.5,"o":96},{"t":31.25,"n":20.5,"o":96},{"t":31.25,"n":21.5,"o":94},{"t":31.25,"n":22.5,"o":94},{"t":31.25,"n":23.5,"o":91},{"t":31.25,"n":24.5,"o":91},{"t":31.25,"n":25.5,"o":91},{"t":31.25,"n":26.5,"o":91},{"t":31.25,"n":27.5,"o":89},{"t":31.25,"n":28.5,"o":89},{"t":31.25,"n":29.5,"o":89},{"t":31.25,"n":30.5,"o":86},{"t":31.25,"n":31.5,"o":86},{"t":31.25,"n":32.5,"o":86},{"t":31.25,"n":33.5,"o":86},{"t":31.25,"n":34.5,"o":86},{"t":31.25,"n":35.5,"o":84},{"t":31.25,"n":36.5,"o":84},{"t":31.25,"n":37.5,"o":84},{"t":31.25,"n":38.5,"o":84},{"t":31.25,"n":39.5,"o":84},{"t":31.25,"n":40.5,"o":81},{"t":31.25,"n":41.5,"o":81},{"t":31.25,"n":42.5,"o":81},{"t":31.25,"n":43.5,"o":81},{"t":31.25,"n":44.5,"o":79},{"t":31.25,"n":45.5,"o":79},{"t":31.25,"n":46.5,"o":79},{"t":31.25,"n":47.5,"o":79},{"t":31.25,"n":48.5,"o":79},{"t":31.25,"n":49.5,"o":79},
{"t":31.75,"n":1.5,"o":59},{"t":31.75,"n":2.5,"o":59},{"t":31.75,"n":3.5,"o":59},{"t":31.75,"n":4.5,"o":59},{"t":31.75,"n":5.5,"o":64},{"t":31.75,"n":6.5,"o":69},{"t":31.75,"n":7.5,"o":74},{"t":31.75,"n":8.5,"o":79},{"t":31.75,"n":9.5,"o":84},{"t":31.75,"n":10.5,"o":86},{"t":31.75,"n":11.5,"o":89},{"t":31.75,"n":12.5,"o":91},{"t":31.75,"n":13.5,"o":94},{"t":31.75,"n":14.5,"o":94},{"t":31.75,"n":15.5,"o":96},{"t":31.75,"n":16.5,"o":96},{"t":31.75,"n":17.5,"o":96},{"t":31.75,"n":18.5,"o":96},{"t":31.75,"n":19.5,"o":96},{"t":31.75,"n":20.5,"o":96},{"t":31.75,"n":21.5,"o":96},{"t":31.75,"n":22.5,"o":94},{"t":31.75,"n":23.5,"o":94},{"t":31.75,"n":24.5,"o":94},{"t":31.75,"n":25.5,"o":91},{"t":31.75,"n":26.5,"o":91},{"t":31.75,"n":27.5,"o":91},{"t":31.75,"n":28.5,"o":89},{"t":31.75,"n":29.5,"o":89},{"t":31.75,"n":30.5,"o":89},{"t":31.75,"n":31.5,"o":89},{"t":31.75,"n":32.5,"o":86},{"t":31.75,"n":33.5,"o":86},{"t":31.75,"n":34.5,"o":86},{"t":31.75,"n":35.5,"o":86},{"t":31.75,"n":36.5,"o":86},{"t":31.75,"n":37.5,"o":84},{"t":31.75,"n":38.5,"o":84},{"t":31.75,"n":39.5,"o":84},{"t":31.75,"n":40.5,"o":84},{"t":31.75,"n":41.5,"o":84},{"t":31.75,"n":42.5,"o":81},{"t":31.75,"n":43.5,"o":81},{"t":31.75,"n":44.5,"o":81},{"t":31.75,"n":45.5,"o":81},{"t":31.75,"n":46.5,"o":81},{"t":31.75,"n":47.5,"o":79},{"t":31.75,"n":48.5,"o":79},{"t":31.75,"n":49.5,"o":79},
{"t":32.25,"n":1.5,"o":59},{"t":32.25,"n":2.5,"o":59},{"t":32.25,"n":3.5,"o":59},{"t":32.25,"n":4.5,"o":59},{"t":32.25,"n":5.5,"o":64},{"t":32.25,"n":6.5,"o":69},{"t":32.25,"n":7.5,"o":74},{"t":32.25,"n":8.5,"o":79},{"t":32.25,"n":9.5,"o":84},{"t":32.25,"n":10.5,"o":86},{"t":32.25,"n":11.5,"o":89},{"t":32.25,"n":12.5,"o":91},{"t":32.25,"n":13.5,"o":94},{"t":32.25,"n":14.5,"o":94},{"t":32.25,"n":15.5,"o":96},{"t":32.25,"n":16.5,"o":96},{"t":32.25,"n":17.5,"o":96},{"t":32.25,"n":18.5,"o":96},{"t":32.25,"n":19.5,"o":96},{"t":32.25,"n":20.5,"o":96},{"t":32.25,"n":21.5,"o":96},{"t":32.25,"n":22.5,"o":96},{"t":32.25,"n":23.5,"o":94},{"t":32.25,"n":24.5,"o":94},{"t":32.25,"n":25.5,"o":94},{"t":32.25,"n":26.5,"o":91},{"t":32.25,"n":27.5,"o":91},{"t":32.25,"n":28.5,"o":91},{"t":32.25,"n":29.5,"o":91},{"t":32.25,"n":30.5,"o":89},{"t":32.25,"n":31.5,"o":89},{"t":32.25,"n":32.5,"o":89},{"t":32.25,"n":33.5,"o":89},{"t":32.25,"n":34.5,"o":86},{"t":32.25,"n":35.5,"o":86},{"t":32.25,"n":36.5,"o":86},{"t":32.25,"n":37.5,"o":86},{"t":32.25,"n":38.5,"o":86},{"t":32.25,"n":39.5,"o":84},{"t":32.25,"n":40.5,"o":84},{"t":32.25,"n":41.5,"o":84},{"t":32.25,"n":42.5,"o":84},{"t":32.25,"n":43.5,"o":84},{"t":32.25,"n":44.5,"o":81},{"t":32.25,"n":45.5,"o":81},{"t":32.25,"n":46.5,"o":81},{"t":32.25,"n":47.5,"o":81},{"t":32.25,"n":48.5,"o":81},{"t":32.25,"n":49.5,"o":79},
{"t":32.75,"n":1.5,"o":59},{"t":32.75,"n":2.5,"o":59},{"t":32.75,"n":3.5,"o":59},{"t":32.75,"n":4.5,"o":59},{"t":32.75,"n":5.5,"o":64},{"t":32.75,"n":6.5,"o":71},{"t":32.75,"n":7.5,"o":74},{"t":32.75,"n":8.5,"o":79},{"t":32.75,"n":9.5,"o":84},{"t":32.75,"n":10.5,"o":86},{"t":32.75,"n":11.5,"o":89},{"t":32.75,"n":12.5,"o":91},{"t":32.75,"n":13.5,"o":94},{"t":32.75,"n":14.5,"o":94},{"t":32.75,"n":15.5,"o":96},{"t":32.75,"n":16.5,"o":96},{"t":32.75,"n":17.5,"o":96},{"t":32.75,"n":18.5,"o":96},{"t":32.75,"n":19.5,"o":99},{"t":32.75,"n":20.5,"o":99},{"t":32.75,"n":21.5,"o":96},{"t":32.75,"n":22.5,"o":96},{"t":32.75,"n":23.5,"o":96},{"t":32.75,"n":24.5,"o":96},{"t":32.75,"n":25.5,"o":94},{"t":32.75,"n":26.5,"o":94},{"t":32.75,"n":27.5,"o":94},{"t":32.75,"n":28.5,"o":91},{"t":32.75,"n":29.5,"o":91},{"t":32.75,"n":30.5,"o":91},{"t":32.75,"n":31.5,"o":91},{"t":32.75,"n":32.5,"o":89},{"t":32.75,"n":33.5,"o":89},{"t":32.75,"n":34.5,"o":89},{"t":32.75,"n":35.5,"o":89},{"t":32.75,"n":36.5,"o":86},{"t":32.75,"n":37.5,"o":86},{"t":32.75,"n":38.5,"o":86},{"t":32.75,"n":39.5,"o":86},{"t":32.75,"n":40.5,"o":86},{"t":32.75,"n":41.5,"o":84},{"t":32.75,"n":42.5,"o":84},{"t":32.75,"n":43.5,"o":84},{"t":32.75,"n":44.5,"o":84},{"t":32.75,"n":45.5,"o":84},{"t":32.75,"n":46.5,"o":81},{"t":32.75,"n":47.5,"o":81},{"t":32.75,"n":48.5,"o":81},{"t":32.75,"n":49.5,"o":81},
{"t":33.25,"n":1.5,"o":59},{"t":33.25,"n":2.5,"o":59},{"t":33.25,"n":3.5,"o":59},{"t":33.25,"n":4.5,"o":61},{"t":33.25,"n":5.5,"o":66},{"t":33.25,"n":6.5,"o":71},{"t":33.25,"n":7.5,"o":76},{"t":33.25,"n":8.5,"o":81},{"t":33.25,"n":9.5,"o":84},{"t":33.25,"n":10.5,"o":89},{"t":33.25,"n":11.5,"o":91},{"t":33.25,"n":12.5,"o":91},{"t":33.25,"n":13.5,"o":94},{"t":33.25,"n":14.5,"o":96},{"t":33.25,"n":15.5,"o":96},{"t":33.25,"n":16.5,"o":99},{"t":33.25,"n":17.5,"o":99},{"t":33.25,"n":18.5,"o":99},{"t":33.25,"n":19.5,"o":99},{"t":33.25,"n":20.5,"o":99},{"t":33.25,"n":21.5,"o":99},{"t":33.25,"n":22.5,"o":96},{"t":33.25,"n":23.5,"o":96},{"t":33.25,"n":24.5,"o":96},{"t":33.25,"n":25.5,"o":96},{"t":33.25,"n":26.5,"o":94},{"t":33.25,"n":27.5,"o":94},{"t":33.25,"n":28.5,"o":94},{"t":33.25,"n":29.5,"o":94},{"t":33.25,"n":30.5,"o":91},{"t":33.25,"n":31.5,"o":91},{"t":33.25,"n":32.5,"o":91},{"t":33.25,"n":33.5,"o":89},{"t":33.25,"n":34.5,"o":89},{"t":33.25,"n":35.5,"o":89},{"t":33.25,"n":36.5,"o":89},{"t":33.25,"n":37.5,"o":89},{"t":33.25,"n":38.5,"o":86},{"t":33.25,"n":39.5,"o":86},{"t":33.25,"n":40.5,"o":86},{"t":33.25,"n":41.5,"o":86},{"t":33.25,"n":42.5,"o":86},{"t":33.25,"n":43.5,"o":84},{"t":33.25,"n":44.5,"o":84},{"t":33.25,"n":45.5,"o":84},{"t":33.25,"n":46.5,"o":84},{"t":33.25,"n":47.5,"o":84},{"t":33.25,"n":48.5,"o":84},{"t":33.25,"n":49.5,"o":81},
{"t":33.75,"n":1.5,"o":59},{"t":33.75,"n":2.5,"o":59},{"t":33.75,"n":3.5,"o":59},{"t":33.75,"n":4.5,"o":61},{"t":33.75,"n":5.5,"o":66},{"t":33.75,"n":6.5,"o":71},{"t":33.75,"n":7.5,"o":76},{"t":33.75,"n":8.5,"o":81},{"t":33.75,"n":9.5,"o":86},{"t":33.75,"n":10.5,"o":89},{"t":33.75,"n":11.5,"o":91},{"t":33.75,"n":12.5,"o":94},{"t":33.75,"n":13.5,"o":94},{"t":33.75,"n":14.5,"o":96},{"t":33.75,"n":15.5,"o":96},{"t":33.75,"n":16.5,"o":99},{"t":33.75,"n":17.5,"o":99},{"t":33.75,"n":18.5,"o":99},{"t":33.75,"n":19.5,"o":99},{"t":33.75,"n":20.5,"o":99},{"t":33.75,"n":21.5,"o":99},{"t":33.75,"n":22.5,"o":99},{"t":33.75,"n":23.5,"o":96},{"t":33.75,"n":24.5,"o":96},{"t":33.75,"n":25.5,"o":96},{"t":33.75,"n":26.5,"o":96},{"t":33.75,"n":27.5,"o":96},{"t":33.75,"n":28.5,"o":94},{"t":33.75,"n":29.5,"o":94},{"t":33.75,"n":30.5,"o":94},{"t":33.75,"n":31.5,"o":91},{"t":33.75,"n":32.5,"o":91},{"t":33.75,"n":33.5,"o":91},{"t":33.75,"n":34.5,"o":91},{"t":33.75,"n":35.5,"o":89},{"t":33.75,"n":36.5,"o":89},{"t":33.75,"n":37.5,"o":89},{"t":33.75,"n":38.5,"o":89},{"t":33.75,"n":39.5,"o":89},{"t":33.75,"n":40.5,"o":86},{"t":33.75,"n":41.5,"o":86},{"t":33.75,"n":42.5,"o":86},{"t":33.75,"n":43.5,"o":86},{"t":33.75,"n":44.5,"o":86},{"t":33.75,"n":45.5,"o":84},{"t":33.75,"n":46.5,"o":84},{"t":33.75,"n":47.5,"o":84},{"t":33.75,"n":48.5,"o":84},{"t":33.75,"n":49.5,"o":84},
{"t":34.25,"n":1.5,"o":59},{"t":34.25,"n":2.5,"o":59},{"t":34.25,"n":3.5,"o":59},{"t":34.25,"n":4.5,"o":61},{"t":34.25,"n":5.5,"o":66},{"t":34.25,"n":6.5,"o":71},{"t":34.25,"n":7.5,"o":76},{"t":34.25,"n":8.5,"o":81},{"t":34.25,"n":9.5,"o":86},{"t":34.25,"n":10.5,"o":89},{"t":34.25,"n":11.5,"o":91},{"t":34.25,"n":12.5,"o":94},{"t":34.25,"n":13.5,"o":94},{"t":34.25,"n":14.5,"o":96},{"t":34.25,"n":15.5,"o":99},{"t":34.25,"n":16.5,"o":99},{"t":34.25,"n":17.5,"o":99},{"t":34.25,"n":18.5,"o":101},{"t":34.25,"n":19.5,"o":101},{"t":34.25,"n":20.5,"o":101},{"t":34.25,"n":21.5,"o":99},{"t":34.25,"n":22.5,"o":99},{"t":34.25,"n":23.5,"o":99},{"t":34.25,"n":24.5,"o":99},{"t":34.25,"n":25.5,"o":96},{"t":34.25,"n":26.5,"o":96},{"t":34.25,"n":27.5,"o":96},{"t":34.25,"n":28.5,"o":96},{"t":34.25,"n":29.5,"o":94},{"t":34.25,"n":30.5,"o":94},{"t":34.25,"n":31.5,"o":94},{"t":34.25,"n":32.5,"o":94},{"t":34.25,"n":33.5,"o":91},{"t":34.25,"n":34.5,"o":91},{"t":34.25,"n":35.5,"o":91},{"t":34.25,"n":36.5,"o":91},{"t":34.25,"n":37.5,"o":89},{"t":34.25,"n":38.5,"o":89},{"t":34.25,"n":39.5,"o":89},{"t":34.25,"n":40.5,"o":89},{"t":34.25,"n":41.5,"o":86},{"t":34.25,"n":42.5,"o":86},{"t":34.25,"n":43.5,"o":86},{"t":34.25,"n":44.5,"o":86},{"t":34.25,"n":45.5,"o":86},{"t":34.25,"n":46.5,"o":86},{"t":34.25,"n":47.5,"o":84},{"t":34.25,"n":48.5,"o":84},{"t":34.25,"n":49.5,"o":84},
{"t":34.75,"n":1.5,"o":59},{"t":34.75,"n":2.5,"o":59},{"t":34.75,"n":3.5,"o":59},{"t":34.75,"n":4.5,"o":61},{"t":34.75,"n":5.5,"o":66},{"t":34.75,"n":6.5,"o":71},{"t":34.75,"n":7.5,"o":76},{"t":34.75,"n":8.5,"o":84},{"t":34.75,"n":9.5,"o":86},{"t":34.75,"n":10.5,"o":89},{"t":34.75,"n":11.5,"o":91},{"t":34.75,"n":12.5,"o":94},{"t":34.75,"n":13.5,"o":96},{"t":34.75,"n":14.5,"o":96},{"t":34.75,"n":15.5,"o":99},{"t":34.75,"n":16.5,"o":101},{"t":34.75,"n":17.5,"o":101},{"t":34.75,"n":18.5,"o":101},{"t":34.75,"n":19.5,"o":101},{"t":34.75,"n":20.5,"o":101},{"t":34.75,"n":21.5,"o":101},{"t":34.75,"n":22.5,"o":99},{"t":34.75,"n":23.5,"o":99},{"t":34.75,"n":24.5,"o":99},{"t":34.75,"n":25.5,"o":99},{"t":34.75,"n":26.5,"o":96},{"t":34.75,"n":27.5,"o":96},{"t":34.75,"n":28.5,"o":96},{"t":34.75,"n":29.5,"o":96},{"t":34.75,"n":30.5,"o":94},{"t":34.75,"n":31.5,"o":94},{"t":34.75,"n":32.5,"o":94},{"t":34.75,"n":33.5,"o":94},{"t":34.75,"n":34.5,"o":91},{"t":34.75,"n":35.5,"o":91},{"t":34.75,"n":36.5,"o":91},{"t":34.75,"n":37.5,"o":91},{"t":34.75,"n":38.5,"o":91},{"t":34.75,"n":39.5,"o":89},{"t":34.75,"n":40.5,"o":89},{"t":34.75,"n":41.5,"o":89},{"t":34.75,"n":42.5,"o":89},{"t":34.75,"n":43.5,"o":86},{"t":34.75,"n":44.5,"o":86},{"t":34.75,"n":45.5,"o":86},{"t":34.75,"n":46.5,"o":86},{"t":34.75,"n":47.5,"o":86},{"t":34.75,"n":48.5,"o":86},{"t":34.75,"n":49.5,"o":84},
{"t":35.25,"n":1.5,"o":59},{"t":35.25,"n":2.5,"o":59},{"t":35.25,"n":3.5,"o":59},{"t":35.25,"n":4.5,"o":61},{"t":35.25,"n":5.5,"o":66},{"t":35.25,"n":6.5,"o":71},{"t":35.25,"n":7.5,"o":79},{"t":35.25,"n":8.5,"o":84},{"t":35.25,"n":9.5,"o":86},{"t":35.25,"n":10.5,"o":89},{"t":35.25,"n":11.5,"o":91},{"t":35.25,"n":12.5,"o":94},{"t":35.25,"n":13.5,"o":96},{"t":35.25,"n":14.5,"o":96},{"t":35.25,"n":15.5,"o":99},{"t":35.25,"n":16.5,"o":101},{"t":35.25,"n":17.5,"o":101},{"t":35.25,"n":18.5,"o":101},{"t":35.25,"n":19.5,"o":101},{"t":35.25,"n":20.5,"o":101},{"t":35.25,"n":21.5,"o":101},{"t":35.25,"n":22.5,"o":101},{"t":35.25,"n":23.5,"o":101},{"t":35.25,"n":24.5,"o":99},{"t":35.25,"n":25.5,"o":99},{"t":35.25,"n":26.5,"o":99},{"t":35.25,"n":27.5,"o":99},{"t":35.25,"n":28.5,"o":96},{"t":35.25,"n":29.5,"o":96},{"t":35.25,"n":30.5,"o":96},{"t":35.25,"n":31.5,"o":96},{"t":35.25,"n":32.5,"o":94},{"t":35.25,"n":33.5,"o":94},{"t":35.25,"n":34.5,"o":94},{"t":35.25,"n":35.5,"o":94},{"t":35.25,"n":36.5,"o":91},{"t":35.25,"n":37.5,"o":91},{"t":35.25,"n":38.5,"o":91},{"t":35.25,"n":39.5,"o":91},{"t":35.25,"n":40.5,"o":89},{"t":35.25,"n":41.5,"o":89},{"t":35.25,"n":42.5,"o":89},{"t":35.25,"n":43.5,"o":89},{"t":35.25,"n":44.5,"o":89},{"t":35.25,"n":45.5,"o":86},{"t":35.25,"n":46.5,"o":86},{"t":35.25,"n":47.5,"o":86},{"t":35.25,"n":48.5,"o":86},{"t":35.25,"n":49.5,"o":86},
{"t":35.75,"n":1.5,"o":59},{"t":35.75,"n":2.5,"o":59},{"t":35.75,"n":3.5,"o":59},{"t":35.75,"n":4.5,"o":61},{"t":35.75,"n":5.5,"o":69},{"t":35.75,"n":6.5,"o":74},{"t":35.75,"n":7.5,"o":79},{"t":35.75,"n":8.5,"o":84},{"t":35.75,"n":9.5,"o":89},{"t":35.75,"n":10.5,"o":91},{"t":35.75,"n":11.5,"o":94},{"t":35.75,"n":12.5,"o":94},{"t":35.75,"n":13.5,"o":96},{"t":35.75,"n":14.5,"o":99},{"t":35.75,"n":15.5,"o":101},{"t":35.75,"n":16.5,"o":101},{"t":35.75,"n":17.5,"o":101},{"t":35.75,"n":18.5,"o":104},{"t":35.75,"n":19.5,"o":104},{"t":35.75,"n":20.5,"o":104},{"t":35.75,"n":21.5,"o":101},{"t":35.75,"n":22.5,"o":101},{"t":35.75,"n":23.5,"o":101},{"t":35.75,"n":24.5,"o":101},{"t":35.75,"n":25.5,"o":99},{"t":35.75,"n":26.5,"o":99},{"t":35.75,"n":27.5,"o":99},{"t":35.75,"n":28.5,"o":99},{"t":35.75,"n":29.5,"o":96},{"t":35.75,"n":30.5,"o":96},{"t":35.75,"n":31.5,"o":96},{"t":35.75,"n":32.5,"o":96},{"t":35.75,"n":33.5,"o":94},{"t":35.75,"n":34.5,"o":94},{"t":35.75,"n":35.5,"o":94},{"t":35.75,"n":36.5,"o":94},{"t":35.75,"n":37.5,"o":91},{"t":35.75,"n":38.5,"o":91},{"t":35.75,"n":39.5,"o":91},{"t":35.75,"n":40.5,"o":91},{"t":35.75,"n":41.5,"o":91},{"t":35.75,"n":42.5,"o":89},{"t":35.75,"n":43.5,"o":89},{"t":35.75,"n":44.5,"o":89},{"t":35.75,"n":45.5,"o":89},{"t":35.75,"n":46.5,"o":89},{"t":35.75,"n":47.5,"o":86},{"t":35.75,"n":48.5,"o":86},{"t":35.75,"n":49.5,"o":86},
{"t":36.25,"n":1.5,"o":59},{"t":36.25,"n":2.5,"o":59},{"t":36.25,"n":3.5,"o":59},{"t":36.25,"n":4.5,"o":61},{"t":36.25,"n":5.5,"o":69},{"t":36.25,"n":6.5,"o":74},{"t":36.25,"n":7.5,"o":79},{"t":36.25,"n":8.5,"o":84},{"t":36.25,"n":9.5,"o":89},{"t":36.25,"n":10.5,"o":91},{"t":36.25,"n":11.5,"o":94},{"t":36.25,"n":12.5,"o":96},{"t":36.25,"n":13.5,"o":96},{"t":36.25,"n":14.5,"o":99},{"t":36.25,"n":15.5,"o":101},{"t":36.25,"n":16.5,"o":104},{"t":36.25,"n":17.5,"o":104},{"t":36.25,"n":18.5,"o":104},{"t":36.25,"n":19.5,"o":104},{"t":36.25,"n":20.5,"o":104},{"t":36.25,"n":21.5,"o":104},{"t":36.25,"n":22.5,"o":104},{"t":36.25,"n":23.5,"o":101},{"t":36.25,"n":24.5,"o":101},{"t":36.25,"n":25.5,"o":101},{"t":36.25,"n":26.5,"o":101},{"t":36.25,"n":27.5,"o":99},{"t":36.25,"n":28.5,"o":99},{"t":36.25,"n":29.5,"o":99},{"t":36.25,"n":30.5,"o":99},{"t":36.25,"n":31.5,"o":96},{"t":36.25,"n":32.5,"o":96},{"t":36.25,"n":33.5,"o":96},{"t":36.25,"n":34.5,"o":96},{"t":36.25,"n":35.5,"o":94},{"t":36.25,"n":36.5,"o":94},{"t":36.25,"n":37.5,"o":94},{"t":36.25,"n":38.5,"o":94},{"t":36.25,"n":39.5,"o":91},{"t":36.25,"n":40.5,"o":91},{"t":36.25,"n":41.5,"o":91},{"t":36.25,"n":42.5,"o":91},{"t":36.25,"n":43.5,"o":91},{"t":36.25,"n":44.5,"o":89},{"t":36.25,"n":45.5,"o":89},{"t":36.25,"n":46.5,"o":89},{"t":36.25,"n":47.5,"o":89},{"t":36.25,"n":48.5,"o":89},{"t":36.25,"n":49.5,"o":86},
{"t":36.75,"n":1.5,"o":59},{"t":36.75,"n":2.5,"o":59},{"t":36.75,"n":3.5,"o":59},{"t":36.75,"n":4.5,"o":64},{"t":36.75,"n":5.5,"o":69},{"t":36.75,"n":6.5,"o":74},{"t":36.75,"n":7.5,"o":81},{"t":36.75,"n":8.5,"o":86},{"t":36.75,"n":9.5,"o":89},{"t":36.75,"n":10.5,"o":91},{"t":36.75,"n":11.5,"o":94},{"t":36.75,"n":12.5,"o":96},{"t":36.75,"n":13.5,"o":96},{"t":36.75,"n":14.5,"o":99},{"t":36.75,"n":15.5,"o":101},{"t":36.75,"n":16.5,"o":104},{"t":36.75,"n":17.5,"o":104},{"t":36.75,"n":18.5,"o":104},{"t":36.75,"n":19.5,"o":104},{"t":36.75,"n":20.5,"o":104},{"t":36.75,"n":21.5,"o":104},{"t":36.75,"n":22.5,"o":104},{"t":36.75,"n":23.5,"o":104},{"t":36.75,"n":24.5,"o":101},{"t":36.75,"n":25.5,"o":101},{"t":36.75,"n":26.5,"o":101},{"t":36.75,"n":27.5,"o":101},{"t":36.75,"n":28.5,"o":99},{"t":36.75,"n":29.5,"o":99},{"t":36.75,"n":30.5,"o":99},{"t":36.75,"n":31.5,"o":99},{"t":36.75,"n":32.5,"o":96},{"t":36.75,"n":33.5,"o":96},{"t":36.75,"n":34.5,"o":96},{"t":36.75,"n":35.5,"o":96},{"t":36.75,"n":36.5,"o":94},{"t":36.75,"n":37.5,"o":94},{"t":36.75,"n":38.5,"o":94},{"t":36.75,"n":39.5,"o":94},{"t":36.75,"n":40.5,"o":94},{"t":36.75,"n":41.5,"o":91},{"t":36.75,"n":42.5,"o":91},{"t":36.75,"n":43.5,"o":91},{"t":36.75,"n":44.5,"o":91},{"t":36.75,"n":45.5,"o":89},{"t":36.75,"n":46.5,"o":89},{"t":36.75,"n":47.5,"o":89},{"t":36.75,"n":48.5,"o":89},{"t":36.75,"n":49.5,"o":89},
{"t":37.25,"n":1.5,"o":59},{"t":37.25,"n":2.5,"o":59},{"t":37.25,"n":3.5,"o":59},{"t":37.25,"n":4.5,"o":64},{"t":37.25,"n":5.5,"o":69},{"t":37.25,"n":6.5,"o":74},{"t":37.25,"n":7.5,"o":81},{"t":37.25,"n":8.5,"o":86},{"t":37.25,"n":9.5,"o":89},{"t":37.25,"n":10.5,"o":91},{"t":37.25,"n":11.5,"o":94},{"t":37.25,"n":12.5,"o":96},{"t":37.25,"n":13.5,"o":99},{"t":37.25,"n":14.5,"o":101},{"t":37.25,"n":15.5,"o":104},{"t":37.25,"n":16.5,"o":104},{"t":37.25,"n":17.5,"o":104},{"t":37.25,"n":18.5,"o":106},{"t":37.25,"n":19.5,"o":106},{"t":37.25,"n":20.5,"o":106},{"t":37.25,"n":21.5,"o":104},{"t":37.25,"n":22.5,"o":104},{"t":37.25,"n":23.5,"o":104},{"t":37.25,"n":24.5,"o":104},{"t":37.25,"n":25.5,"o":104},{"t":37.25,"n":26.5,"o":101},{"t":37.25,"n":27.5,"o":101},{"t":37.25,"n":28.5,"o":101},{"t":37.25,"n":29.5,"o":101},{"t":37.25,"n":30.5,"o":99},{"t":37.25,"n":31.5,"o":99},{"t":37.25,"n":32.5,"o":99},{"t":37.25,"n":33.5,"o":96},{"t":37.25,"n":34.5,"o":96},{"t":37.25,"n":35.5,"o":96},{"t":37.25,"n":36.5,"o":96},{"t":37.25,"n":37.5,"o":94},{"t":37.25,"n":38.5,"o":94},{"t":37.25,"n":39.5,"o":94},{"t":37.25,"n":40.5,"o":94},{"t":37.25,"n":41.5,"o":94},{"t":37.25,"n":42.5,"o":91},{"t":37.25,"n":43.5,"o":91},{"t":37.25,"n":44.5,"o":91},{"t":37.25,"n":45.5,"o":91},{"t":37.25,"n":46.5,"o":91},{"t":37.25,"n":47.5,"o":89},{"t":37.25,"n":48.5,"o":89},{"t":37.25,"n":49.5,"o":89},
{"t":37.75,"n":1.5,"o":59},{"t":37.75,"n":2.5,"o":59},{"t":37.75,"n":3.5,"o":59},{"t":37.75,"n":4.5,"o":64},{"t":37.75,"n":5.5,"o":69},{"t":37.75,"n":6.5,"o":76},{"t":37.75,"n":7.5,"o":81},{"t":37.75,"n":8.5,"o":86},{"t":37.75,"n":9.5,"o":91},{"t":37.75,"n":10.5,"o":94},{"t":37.75,"n":11.5,"o":96},{"t":37.75,"n":12.5,"o":96},{"t":37.75,"n":13.5,"o":99},{"t":37.75,"n":14.5,"o":101},{"t":37.75,"n":15.5,"o":104},{"t":37.75,"n":16.5,"o":106},{"t":37.75,"n":17.5,"o":106},{"t":37.75,"n":18.5,"o":106},{"t":37.75,"n":19.5,"o":106},{"t":37.75,"n":20.5,"o":106},{"t":37.75,"n":21.5,"o":106},{"t":37.75,"n":22.5,"o":106},{"t":37.75,"n":23.5,"o":104},{"t":37.75,"n":24.5,"o":104},{"t":37.75,"n":25.5,"o":104},{"t":37.75,"n":26.5,"o":104},{"t":37.75,"n":27.5,"o":101},{"t":37.75,"n":28.5,"o":101},{"t":37.75,"n":29.5,"o":101},{"t":37.75,"n":30.5,"o":101},{"t":37.75,"n":31.5,"o":99},{"t":37.75,"n":32.5,"o":99},{"t":37.75,"n":33.5,"o":99},{"t":37.75,"n":34.5,"o":96},{"t":37.75,"n":35.5,"o":96},{"t":37.75,"n":36.5,"o":96},{"t":37.75,"n":37.5,"o":96},{"t":37.75,"n":38.5,"o":94},{"t":37.75,"n":39.5,"o":94},{"t":37.75,"n":40.5,"o":94},{"t":37.75,"n":41.5,"o":94},{"t":37.75,"n":42.5,"o":94},{"t":37.75,"n":43.5,"o":94},{"t":37.75,"n":44.5,"o":91},{"t":37.75,"n":45.5,"o":91},{"t":37.75,"n":46.5,"o":91},{"t":37.75,"n":47.5,"o":91},{"t":37.75,"n":48.5,"o":91},{"t":37.75,"n":49.5,"o":89},
{"t":38.25,"n":1.5,"o":59},{"t":38.25,"n":2.5,"o":59},{"t":38.25,"n":3.5,"o":59},{"t":38.25,"n":4.5,"o":64},{"t":38.25,"n":5.5,"o":71},{"t":38.25,"n":6.5,"o":76},{"t":38.25,"n":7.5,"o":84},{"t":38.25,"n":8.5,"o":89},{"t":38.25,"n":9.5,"o":91},{"t":38.25,"n":10.5,"o":94},{"t":38.25,"n":11.5,"o":96},{"t":38.25,"n":12.5,"o":96},{"t":38.25,"n":13.5,"o":99},{"t":38.25,"n":14.5,"o":101},{"t":38.25,"n":15.5,"o":104},{"t":38.25,"n":16.5,"o":106},{"t":38.25,"n":17.5,"o":106},{"t":38.25,"n":18.5,"o":106},{"t":38.25,"n":19.5,"o":106},{"t":38.25,"n":20.5,"o":106},{"t":38.25,"n":21.5,"o":106},{"t":38.25,"n":22.5,"o":106},{"t":38.25,"n":23.5,"o":106},{"t":38.25,"n":24.5,"o":106},{"t":38.25,"n":25.5,"o":104},{"t":38.25,"n":26.5,"o":104},{"t":38.25,"n":27.5,"o":104},{"t":38.25,"n":28.5,"o":104},{"t":38.25,"n":29.5,"o":101},{"t":38.25,"n":30.5,"o":101},{"t":38.25,"n":31.5,"o":101},{"t":38.25,"n":32.5,"o":99},{"t":38.25,"n":33.5,"o":99},{"t":38.25,"n":34.5,"o":99},{"t":38.25,"n":35.5,"o":99},{"t":38.25,"n":36.5,"o":96},{"t":38.25,"n":37.5,"o":96},{"t":38.25,"n":38.5,"o":96},{"t":38.25,"n":39.5,"o":96},{"t":38.25,"n":40.5,"o":94},{"t":38.25,"n":41.5,"o":94},{"t":38.25,"n":42.5,"o":94},{"t":38.25,"n":43.5,"o":94},{"t":38.25,"n":44.5,"o":94},{"t":38.25,"n":45.5,"o":91},{"t":38.25,"n":46.5,"o":91},{"t":38.25,"n":47.5,"o":91},{"t":38.25,"n":48.5,"o":91},{"t":38.25,"n":49.5,"o":91},
{"t":38.75,"n":1.5,"o":59},{"t":38.75,"n":2.5,"o":59},{"t":38.75,"n":3.5,"o":59},{"t":38.75,"n":4.5,"o":64},{"t":38.75,"n":5.5,"o":71},{"t":38.75,"n":6.5,"o":76},{"t":38.75,"n":7.5,"o":84},{"t":38.75,"n":8.5,"o":89},{"t":38.75,"n":9.5,"o":91},{"t":38.75,"n":10.5,"o":94},{"t":38.75,"n":11.5,"o":96},{"t":38.75,"n":12.5,"o":99},{"t":38.75,"n":13.5,"o":101},{"t":38.75,"n":14.5,"o":101},{"t":38.75,"n":15.5,"o":104},{"t":38.75,"n":16.5,"o":106},{"t":38.75,"n":17.5,"o":106},{"t":38.75,"n":18.5,"o":106},{"t":38.75,"n":19.5,"o":106},{"t":38.75,"n":20.5,"o":106},{"t":38.75,"n":21.5,"o":106},{"t":38.75,"n":22.5,"o":106},{"t":38.75,"n":23.5,"o":106},{"t":38.75,"n":24.5,"o":106},{"t":38.75,"n":25.5,"o":106},{"t":38.75,"n":26.5,"o":104},{"t":38.75,"n":27.5,"o":104},{"t":38.75,"n":28.5,"o":104},{"t":38.75,"n":29.5,"o":104},{"t":38.75,"n":30.5,"o":101},{"t":38.75,"n":31.5,"o":101},{"t":38.75,"n":32.5,"o":101},{"t":38.75,"n":33.5,"o":101},{"t":38.75,"n":34.5,"o":99},{"t":38.75,"n":35.5,"o":99},{"t":38.75,"n":36.5,"o":99},{"t":38.75,"n":37.5,"o":96},{"t":38.75,"n":38.5,"o":96},{"t":38.75,"n":39.5,"o":96},{"t":38.75,"n":40.5,"o":96},{"t":38.75,"n":41.5,"o":94},{"t":38.75,"n":42.5,"o":94},{"t":38.75,"n":43.5,"o":94},{"t":38.75,"n":44.5,"o":94},{"t":38.75,"n":45.5,"o":94},{"t":38.75,"n":46.5,"o":94},{"t":38.75,"n":47.5,"o":91},{"t":38.75,"n":48.5,"o":91},{"t":38.75,"n":49.5,"o":91},
{"t":39.25,"n":1.5,"o":59},{"t":39.25,"n":2.5,"o":59},{"t":39.25,"n":3.5,"o":59},{"t":39.25,"n":4.5,"o":64},{"t":39.25,"n":5.5,"o":71},{"t":39.25,"n":6.5,"o":79},{"t":39.25,"n":7.5,"o":84},{"t":39.25,"n":8.5,"o":89},{"t":39.25,"n":9.5,"o":91},{"t":39.25,"n":10.5,"o":94},{"t":39.25,"n":11.5,"o":96},{"t":39.25,"n":12.5,"o":99},{"t":39.25,"n":13.5,"o":101},{"t":39.25,"n":14.5,"o":104},{"t":39.25,"n":15.5,"o":104},{"t":39.25,"n":16.5,"o":106},{"t":39.25,"n":17.5,"o":106},{"t":39.25,"n":18.5,"o":109},{"t":39.25,"n":19.5,"o":109},{"t":39.25,"n":20.5,"o":109},{"t":39.25,"n":21.5,"o":109},{"t":39.25,"n":22.5,"o":106},{"t":39.25,"n":23.5,"o":106},{"t":39.25,"n":24.5,"o":106},{"t":39.25,"n":25.5,"o":106},{"t":39.25,"n":26.5,"o":106},{"t":39.25,"n":27.5,"o":106},{"t":39.25,"n":28.5,"o":104},{"t":39.25,"n":29.5,"o":104},{"t":39.25,"n":30.5,"o":104},{"t":39.25,"n":31.5,"o":104},{"t":39.25,"n":32.5,"o":101},{"t":39.25,"n":33.5,"o":101},{"t":39.25,"n":34.5,"o":101},{"t":39.25,"n":35.5,"o":99},{"t":39.25,"n":36.5,"o":99},{"t":39.25,"n":37.5,"o":99},{"t":39.25,"n":38.5,"o":99},{"t":39.25,"n":39.5,"o":96},{"t":39.25,"n":40.5,"o":96},{"t":39.25,"n":41.5,"o":96},{"t":39.25,"n":42.5,"o":94},{"t":39.25,"n":43.5,"o":94},{"t":39.25,"n":44.5,"o":94},{"t":39.25,"n":45.5,"o":94},{"t":39.25,"n":46.5,"o":94},{"t":39.25,"n":47.5,"o":94},{"t":39.25,"n":48.5,"o":94},{"t":39.25,"n":49.5,"o":91},
{"t":39.75,"n":1.5,"o":59},{"t":39.75,"n":2.5,"o":59},{"t":39.75,"n":3.5,"o":59},{"t":39.75,"n":4.5,"o":66},{"t":39.75,"n":5.5,"o":71},{"t":39.75,"n":6.5,"o":79},{"t":39.75,"n":7.5,"o":86},{"t":39.75,"n":8.5,"o":91},{"t":39.75,"n":9.5,"o":94},{"t":39.75,"n":10.5,"o":96},{"t":39.75,"n":11.5,"o":99},{"t":39.75,"n":12.5,"o":99},{"t":39.75,"n":13.5,"o":101},{"t":39.75,"n":14.5,"o":104},{"t":39.75,"n":15.5,"o":106},{"t":39.75,"n":16.5,"o":106},{"t":39.75,"n":17.5,"o":109},{"t":39.75,"n":18.5,"o":109},{"t":39.75,"n":19.5,"o":109},{"t":39.75,"n":20.5,"o":109},{"t":39.75,"n":21.5,"o":109},{"t":39.75,"n":22.5,"o":109},{"t":39.75,"n":23.5,"o":109},{"t":39.75,"n":24.5,"o":106},{"t":39.75,"n":25.5,"o":106},{"t":39.75,"n":26.5,"o":106},{"t":39.75,"n":27.5,"o":106},{"t":39.75,"n":28.5,"o":106},{"t":39.75,"n":29.5,"o":106},{"t":39.75,"n":30.5,"o":104},{"t":39.75,"n":31.5,"o":104},{"t":39.75,"n":32.5,"o":104},{"t":39.75,"n":33.5,"o":101},{"t":39.75,"n":34.5,"o":101},{"t":39.75,"n":35.5,"o":101},{"t":39.75,"n":36.5,"o":101},{"t":39.75,"n":37.5,"o":99},{"t":39.75,"n":38.5,"o":99},{"t":39.75,"n":39.5,"o":99},{"t":39.75,"n":40.5,"o":96},{"t":39.75,"n":41.5,"o":96},{"t":39.75,"n":42.5,"o":96},{"t":39.75,"n":43.5,"o":94},{"t":39.75,"n":44.5,"o":94},{"t":39.75,"n":45.5,"o":94},{"t":39.75,"n":46.5,"o":94},{"t":39.75,"n":47.5,"o":94},{"t":39.75,"n":48.5,"o":94},{"t":39.75,"n":49.5,"o":94},
{"t":40.25,"n":1.5,"o":59},{"t":40.25,"n":2.5,"o":59},{"t":40.25,"n":3.5,"o":59},{"t":40.25,"n":4.5,"o":66},{"t":40.25,"n":5.5,"o":74},{"t":40.25,"n":6.5,"o":81},{"t":40.25,"n":7.5,"o":86},{"t":40.25,"n":8.5,"o":91},{"t":40.25,"n":9.5,"o":94},{"t":40.25,"n":10.5,"o":96},{"t":40.25,"n":11.5,"o":99},{"t":40.25,"n":12.5,"o":101},{"t":40.25,"n":13.5,"o":101},{"t":40.25,"n":14.5,"o":104},{"t":40.25,"n":15.5,"o":106},{"t":40.25,"n":16.5,"o":106},{"t":40.25,"n":17.5,"o":109},{"t":40.25,"n":18.5,"o":109},{"t":40.25,"n":19.5,"o":111},{"t":40.25,"n":20.5,"o":111},{"t":40.25,"n":21.5,"o":109},{"t":40.25,"n":22.5,"o":109},{"t":40.25,"n":23.5,"o":109},{"t":40.25,"n":24.5,"o":109},{"t":40.25,"n":25.5,"o":109},{"t":40.25,"n":26.5,"o":106},{"t":40.25,"n":27.5,"o":106},{"t":40.25,"n":28.5,"o":106},{"t":40.25,"n":29.5,"o":106},{"t":40.25,"n":30.5,"o":106},{"t":40.25,"n":31.5,"o":104},{"t":40.25,"n":32.5,"o":104},{"t":40.25,"n":33.5,"o":104},{"t":40.25,"n":34.5,"o":104},{"t":40.25,"n":35.5,"o":101},{"t":40.25,"n":36.5,"o":101},{"t":40.25,"n":37.5,"o":101},{"t":40.25,"n":38.5,"o":99},{"t":40.25,"n":39.5,"o":99},{"t":40.25,"n":40.5,"o":99},{"t":40.25,"n":41.5,"o":96},{"t":40.25,"n":42.5,"o":96},{"t":40.25,"n":43.5,"o":96},{"t":40.25,"n":44.5,"o":96},{"t":40.25,"n":45.5,"o":94},{"t":40.25,"n":46.5,"o":94},{"t":40.25,"n":47.5,"o":94},{"t":40.25,"n":48.5,"o":94},{"t":40.25,"n":49.5,"o":94},
{"t":40.75,"n":1.5,"o":59},{"t":40.75,"n":2.5,"o":59},{"t":40.75,"n":3.5,"o":59},{"t":40.75,"n":4.5,"o":66},{"t":40.75,"n":5.5,"o":74},{"t":40.75,"n":6.5,"o":81},{"t":40.75,"n":7.5,"o":89},{"t":40.75,"n":8.5,"o":91},{"t":40.75,"n":9.5,"o":94},{"t":40.75,"n":10.5,"o":96},{"t":40.75,"n":11.5,"o":99},{"t":40.75,"n":12.5,"o":101},{"t":40.75,"n":13.5,"o":104},{"t":40.75,"n":14.5,"o":104},{"t":40.75,"n":15.5,"o":106},{"t":40.75,"n":16.5,"o":106},{"t":40.75,"n":17.5,"o":109},{"t":40.75,"n":18.5,"o":111},{"t":40.75,"n":19.5,"o":111},{"t":40.75,"n":20.5,"o":111},{"t":40.75,"n":21.5,"o":111},{"t":40.75,"n":22.5,"o":111},{"t":40.75,"n":23.5,"o":111},{"t":40.75,"n":24.5,"o":109},{"t":40.75,"n":25.5,"o":109},{"t":40.75,"n":26.5,"o":109},{"t":40.75,"n":27.5,"o":109},{"t":40.75,"n":28.5,"o":106},{"t":40.75,"n":29.5,"o":106},{"t":40.75,"n":30.5,"o":106},{"t":40.75,"n":31.5,"o":106},{"t":40.75,"n":32.5,"o":106},{"t":40.75,"n":33.5,"o":104},{"t":40.75,"n":34.5,"o":104},{"t":40.75,"n":35.5,"o":104},{"t":40.75,"n":36.5,"o":101},{"t":40.75,"n":37.5,"o":101},{"t":40.75,"n":38.5,"o":101},{"t":40.75,"n":39.5,"o":101},{"t":40.75,"n":40.5,"o":99},{"t":40.75,"n":41.5,"o":99},{"t":40.75,"n":42.5,"o":99},{"t":40.75,"n":43.5,"o":96},{"t":40.75,"n":44.5,"o":96},{"t":40.75,"n":45.5,"o":96},{"t":40.75,"n":46.5,"o":94},{"t":40.75,"n":47.5,"o":94},{"t":40.75,"n":48.5,"o":94},{"t":40.75,"n":49.5,"o":94}
],
"ssp":[
{"name":"ssp370","t":37.66,"n":20.09},
{"name":"ssp585","t":38.15,"n":12.69},
{"name":"ssp245","t":37.32,"n":5.56},
{"name":"ssp126","t":36.61,"n":3.34},
{"name":"ssp119","t":35.33,"n":2.5}
],
"yrs":[
{"year":"2013","n":19.59},
{"year":"2022","n":12.58}
]
},
"hconcat":[
{
"width":295,"height":296,
"resolve":{"scale":{"x":"independent","y":"independent"},"axis":{"x":"independent","y":"independent"}},
"layer":[
{"layer":[
{"data":{"name":"a"},"mark":{"type":"rect","strokeWidth":0.6},
"encoding":{
"x":{"field":"t","type":"quantitative","bin":{"step":0.5,"extent":[31,41]},"scale":{"domain":[31,41],"nice":false,"zero":false},"title":"𝑇ₘₐₓ (℃)",
"axis":{"orient":"bottom","values":[32,34,36,38,40],"format":".1f","tickSize":8,"labelPadding":14,"titleX":173,"titleY":44,"titleBaseline":"top"}},
"y":{"field":"n","type":"quantitative","bin":{"step":1,"extent":[1,50]},"scale":{"domain":[1,50],"nice":false,"zero":false},"title":"NOₓ (ppbv)",
"axis":{"orient":"left","values":[10,20,30,40,50],"tickSize":8,"labelPadding":10,"titleX":-54,"titleY":120,"titleFontSize":21}},
"color":{"field":"o","type":"quantitative","scale":{"domain":[57.5,59,61,64,66,69,71,74,76,79,81,84,86,89,91,94,96,99,101,104,106,109,111,112.5],"range":["#4b8b6b","#4b8b6b","#53996f","#5fa676","#6fb17b","#82bc81","#96c688","#a9d08f","#bbdb97","#cde4a0","#dcecaa","#eaf2b3","#f7f7bd","#fdf0b4","#fde3a6","#fcd498","#fbc28b","#f8ad80","#f49777","#ec806e","#e06a66","#d05a66","#c04d69","#c04d69"]},"legend":{"type":"gradient","title":"O₃ (ppbv)","values":[60,110],"direction":"vertical","orient":"right"}},
"stroke":{"field":"o","type":"quantitative","scale":{"domain":[57.4,59,61,64,66,69,71,74,76,79,81,84,86,89,91,94,96,99,101,104,106,109,111,112.6],"range":["#4b8b6b","#4b8b6b","#53996f","#5fa676","#6fb17b","#82bc81","#96c688","#a9d08f","#bbdb97","#cde4a0","#dcecaa","#eaf2b3","#f7f7bd","#fdf0b4","#fde3a6","#fcd498","#fbc28b","#f8ad80","#f49777","#ec806e","#e06a66","#d05a66","#c04d69","#c04d69"]},"legend":null}
}},
{"data":{"values":[{"t1":31.22,"n1":19.76,"t2":40.76,"n2":31.25},{"t1":31.22,"n1":14.03,"t2":40.37,"n2":10.16}]},
"mark":{"type":"rule","color":"#8ea8de","strokeWidth":1.3,"strokeDash":[4,3]},
"encoding":{"x":{"field":"t1","type":"quantitative"},"y":{"field":"n1","type":"quantitative"},"x2":{"field":"t2"},"y2":{"field":"n2"}}},
{"data":{"values":[{"label":"High NOₓ regime","t":35.66,"n":33.6},{"label":"Maximal O₃ regime","t":37.84,"n":14.58},{"label":"Low NOₓ regime","t":35.53,"n":4.92}]},
"mark":{"type":"text","color":"#6c8fdc","fontSize":18,"align":"center","baseline":"alphabetic"},
"encoding":{"x":{"field":"t","type":"quantitative"},"y":{"field":"n","type":"quantitative"},"text":{"field":"label"}}},
{"data":{"values":[{"s":"(a)"}]},"mark":{"type":"text","fontSize":23,"align":"center","baseline":"alphabetic","color":"#111"},
"encoding":{"x":{"datum":28.79},"y":{"datum":52.0},"text":{"field":"s"}}},
{"data":{"values":[{"s":"Temperature-independent isoprene"}]},"mark":{"type":"text","fontSize":17.5,"align":"center","baseline":"alphabetic","color":"#111"},
"encoding":{"x":{"datum":36.01},"y":{"datum":51.55},"text":{"field":"s"}}}
]},
{"data":{"values":[{}]},"mark":{"type":"rect","filled":false,"color":"#222","strokeWidth":1},
"encoding":{
"x":{"datum":31,"type":"quantitative","scale":{"domain":[31,41],"nice":false,"zero":false},"axis":{"orient":"bottom","values":[31,31.5,32,32.5,33,33.5,34,34.5,35,35.5,36,36.5,37,37.5,38,38.5,39,39.5,40,40.5,41],"labels":false,"tickSize":4,"title":null}},
"x2":{"datum":41},
"y":{"datum":1,"type":"quantitative","scale":{"domain":[1,50],"nice":false,"zero":false},"axis":{"orient":"left","values":[2,4,6,8,10,12,14,16,18,20,22,24,26,28,30,32,34,36,38,40,42,44,46,48,50],"labels":false,"tickSize":4,"title":null}},
"y2":{"datum":50}}}
]
},
{
"width":293,"height":293,
"resolve":{"scale":{"x":"independent","y":"independent"},"axis":{"x":"independent","y":"independent"}},
"layer":[
{"layer":[
{"data":{"name":"b"},"mark":{"type":"rect","strokeWidth":0.6},
"encoding":{
"x":{"field":"t","type":"quantitative","bin":{"step":0.5,"extent":[31,41]},"scale":{"domain":[31,41],"nice":false,"zero":false},"title":"𝑇ₘₐₓ (℃)",
"axis":{"orient":"bottom","values":[32,34,36,38,40],"format":".1f","tickSize":8,"labelPadding":14,"titleX":172,"titleY":44,"titleBaseline":"top"}},
"y":{"field":"n","type":"quantitative","bin":{"step":1,"extent":[1,50]},"scale":{"domain":[1,50],"nice":false,"zero":false},"title":"NOₓ (ppbv)",
"axis":{"orient":"left","values":[10,20,30,40,50],"tickSize":8,"labelPadding":10,"titleX":-52,"titleY":121,"titleFontSize":21}},
"color":{"field":"o","type":"quantitative","scale":{"domain":[57.5,59,61,64,66,69,71,74,76,79,81,84,86,89,91,94,96,99,101,104,106,109,111,112.5],"range":["#4b8b6b","#4b8b6b","#53996f","#5fa676","#6fb17b","#82bc81","#96c688","#a9d08f","#bbdb97","#cde4a0","#dcecaa","#eaf2b3","#f7f7bd","#fdf0b4","#fde3a6","#fcd498","#fbc28b","#f8ad80","#f49777","#ec806e","#e06a66","#d05a66","#c04d69","#c04d69"]},"legend":{"type":"gradient","title":"O₃ (ppbv)","values":[60,110],"direction":"vertical","orient":"right"}},
"stroke":{"field":"o","type":"quantitative","scale":{"domain":[57.4,59,61,64,66,69,71,74,76,79,81,84,86,89,91,94,96,99,101,104,106,109,111,112.6],"range":["#4b8b6b","#4b8b6b","#53996f","#5fa676","#6fb17b","#82bc81","#96c688","#a9d08f","#bbdb97","#cde4a0","#dcecaa","#eaf2b3","#f7f7bd","#fdf0b4","#fde3a6","#fcd498","#fbc28b","#f8ad80","#f49777","#ec806e","#e06a66","#d05a66","#c04d69","#c04d69"]},"legend":null}
}},
{"data":{"name":"yrs"},"mark":{"type":"rule","strokeWidth":2,"strokeDash":[5,3]},
"encoding":{"y":{"field":"n","type":"quantitative"},"color":{"condition":{"test":"datum.year == '2013'","value":"#f0202a"},"value":"#1c2ce8"}}},
{"data":{"name":"yrs"},"mark":{"type":"text","fontSize":15,"fontWeight":"bold","align":"center","baseline":"alphabetic","dy":-8.7},
"encoding":{"x":{"datum":32.13},"y":{"field":"n","type":"quantitative"},"text":{"field":"year"},"color":{"condition":{"test":"datum.year == '2013'","value":"#d61e24"},"value":"#2238c8"}}},
{"data":{"values":[{"t1":35.95,"n1":5.73,"t2":36.47,"n2":3.89}]},"mark":{"type":"rule","color":"#111","strokeWidth":1.2},
"encoding":{"x":{"field":"t1","type":"quantitative"},"y":{"field":"n1","type":"quantitative"},"x2":{"field":"t2"},"y2":{"field":"n2"}}},
{"data":{"name":"ssp"},"mark":{"type":"circle","size":62,"color":"#000","opacity":1},
"encoding":{"x":{"field":"t","type":"quantitative"},"y":{"field":"n","type":"quantitative"}}},
{"data":{"name":"ssp"},"transform":[{"filter":"datum.name == 'ssp370'"}],"mark":{"type":"text","fontSize":15,"fontWeight":"bold","align":"center","baseline":"alphabetic","color":"#111","dx":-10.8,"dy":-10.7},
"encoding":{"x":{"field":"t","type":"quantitative"},"y":{"field":"n","type":"quantitative"},"text":{"field":"name"}}},
{"data":{"name":"ssp"},"transform":[{"filter":"datum.name == 'ssp585'"}],"mark":{"type":"text","fontSize":15,"fontWeight":"bold","align":"center","baseline":"alphabetic","color":"#111","dx":27.4,"dy":-9.3},
"encoding":{"x":{"field":"t","type":"quantitative"},"y":{"field":"n","type":"quantitative"},"text":{"field":"name"}}},
{"data":{"name":"ssp"},"transform":[{"filter":"datum.name == 'ssp245'"}],"mark":{"type":"text","fontSize":15,"fontWeight":"bold","align":"center","baseline":"alphabetic","color":"#111","dx":6.2,"dy":-10},
"encoding":{"x":{"field":"t","type":"quantitative"},"y":{"field":"n","type":"quantitative"},"text":{"field":"name"}}},
{"data":{"name":"ssp"},"transform":[{"filter":"datum.name == 'ssp126'"}],"mark":{"type":"text","fontSize":15,"fontWeight":"bold","align":"center","baseline":"alphabetic","color":"#111","dx":-37.1,"dy":-15.3},
"encoding":{"x":{"field":"t","type":"quantitative"},"y":{"field":"n","type":"quantitative"},"text":{"field":"name"}}},
{"data":{"name":"ssp"},"transform":[{"filter":"datum.name == 'ssp119'"}],"mark":{"type":"text","fontSize":15,"fontWeight":"bold","align":"center","baseline":"alphabetic","color":"#111","dx":-34.7,"dy":4},
"encoding":{"x":{"field":"t","type":"quantitative"},"y":{"field":"n","type":"quantitative"},"text":{"field":"name"}}},
{"data":{"values":[{"s":"(b)"}]},"mark":{"type":"text","fontSize":23,"align":"center","baseline":"alphabetic","color":"#111"},
"encoding":{"x":{"datum":28.72},"y":{"datum":52.0},"text":{"field":"s"}}},
{"data":{"values":[{"s":"Temperature-dependent isoprene"}]},"mark":{"type":"text","fontSize":17.5,"align":"center","baseline":"alphabetic","color":"#111"},
"encoding":{"x":{"datum":35.95},"y":{"datum":51.84},"text":{"field":"s"}}}
]},
{"data":{"values":[{}]},"mark":{"type":"rect","filled":false,"color":"#222","strokeWidth":1},
"encoding":{
"x":{"datum":31,"type":"quantitative","scale":{"domain":[31,41],"nice":false,"zero":false},"axis":{"orient":"bottom","values":[31,31.5,32,32.5,33,33.5,34,34.5,35,35.5,36,36.5,37,37.5,38,38.5,39,39.5,40,40.5,41],"labels":false,"tickSize":4,"title":null}},
"x2":{"datum":41},
"y":{"datum":1,"type":"quantitative","scale":{"domain":[1,50],"nice":false,"zero":false},"axis":{"orient":"left","values":[2,4,6,8,10,12,14,16,18,20,22,24,26,28,30,32,34,36,38,40,42,44,46,48,50],"labels":false,"tickSize":4,"title":null}},
"y2":{"datum":50}}}
]
}
]
}
